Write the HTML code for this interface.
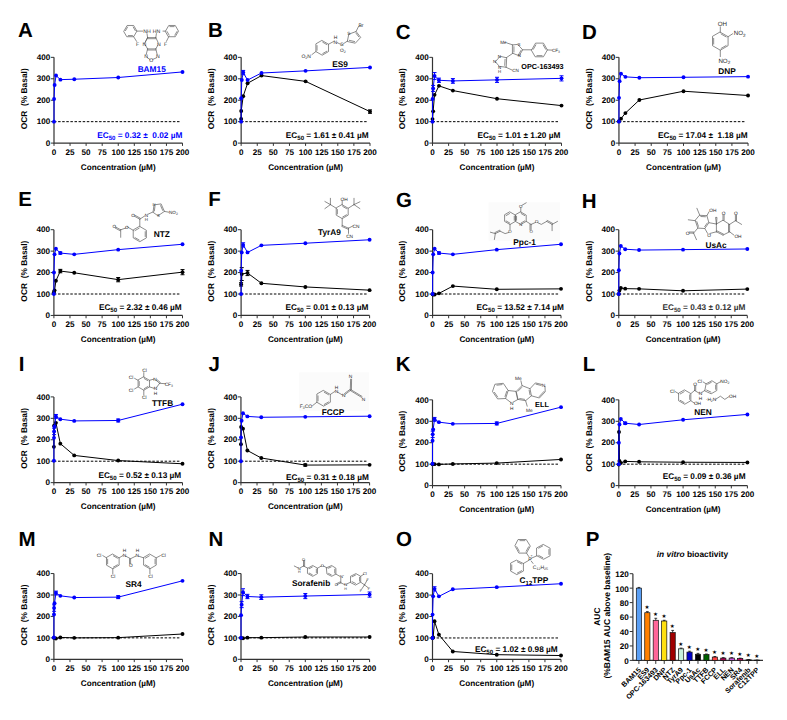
<!DOCTYPE html>
<html><head><meta charset="utf-8"><style>
html,body{margin:0;padding:0;background:#fff;}
svg{display:block;}
text{font-family:"Liberation Sans", sans-serif;text-rendering:geometricPrecision;}
</style></head><body>
<svg width="787" height="720" viewBox="0 0 787 720" font-family='"Liberation Sans", sans-serif'>
<rect width="787" height="720" fill="#fff"/>
<rect x="488.6" y="202.4" width="71.4" height="38.4" fill="#fbfbfb"/>
<rect x="299.2" y="372.4" width="69.8" height="38.4" fill="#fbfbfb"/>
<text x="18.09" y="36.9" font-size="20.5" text-anchor="start" fill="#000" font-weight="bold" >A</text>
<text x="208.03" y="36.8" font-size="20.5" text-anchor="start" fill="#000" font-weight="bold" >B</text>
<text x="395.86" y="38.6" font-size="20.5" text-anchor="start" fill="#000" font-weight="bold" >C</text>
<text x="581.93" y="39.2" font-size="20.5" text-anchor="start" fill="#000" font-weight="bold" >D</text>
<text x="18.33" y="205.9" font-size="20.5" text-anchor="start" fill="#000" font-weight="bold" >E</text>
<text x="208.23" y="205.8" font-size="20.5" text-anchor="start" fill="#000" font-weight="bold" >F</text>
<text x="395.96" y="206.5" font-size="20.5" text-anchor="start" fill="#000" font-weight="bold" >G</text>
<text x="581.83" y="207.8" font-size="20.5" text-anchor="start" fill="#000" font-weight="bold" >H</text>
<text x="18.63" y="371" font-size="20.5" text-anchor="start" fill="#000" font-weight="bold" >I</text>
<text x="208.59" y="371" font-size="20.5" text-anchor="start" fill="#000" font-weight="bold" >J</text>
<text x="395.83" y="371" font-size="20.5" text-anchor="start" fill="#000" font-weight="bold" >K</text>
<text x="582.83" y="370.8" font-size="20.5" text-anchor="start" fill="#000" font-weight="bold" >L</text>
<text x="18.53" y="546" font-size="20.5" text-anchor="start" fill="#000" font-weight="bold" >M</text>
<text x="208.53" y="546" font-size="20.5" text-anchor="start" fill="#000" font-weight="bold" >N</text>
<text x="396.06" y="545.7" font-size="20.5" text-anchor="start" fill="#000" font-weight="bold" >O</text>
<text x="585.73" y="546" font-size="20.5" text-anchor="start" fill="#000" font-weight="bold" >P</text>
<line x1="54" y1="121.66" x2="180.3" y2="121.66" stroke="#000" stroke-width="1.0" stroke-dasharray="2.5,1.6"/>
<path d="M54,57.35 V143.1 H182.5" fill="none" stroke="#333" stroke-width="1.2"/>
<text x="50.2" y="145.8" font-size="8.1" text-anchor="end" fill="#000" font-weight="bold" >0</text>
<text x="50.2" y="124.36" font-size="8.1" text-anchor="end" fill="#000" font-weight="bold" >100</text>
<text x="50.2" y="102.92" font-size="8.1" text-anchor="end" fill="#000" font-weight="bold" >200</text>
<text x="50.2" y="81.49" font-size="8.1" text-anchor="end" fill="#000" font-weight="bold" >300</text>
<text x="50.2" y="60.05" font-size="8.1" text-anchor="end" fill="#000" font-weight="bold" >400</text>
<text x="54" y="154.8" font-size="8.1" text-anchor="middle" fill="#000" font-weight="bold" >0</text>
<text x="70.06" y="154.8" font-size="8.1" text-anchor="middle" fill="#000" font-weight="bold" >25</text>
<text x="86.12" y="154.8" font-size="8.1" text-anchor="middle" fill="#000" font-weight="bold" >50</text>
<text x="102.19" y="154.8" font-size="8.1" text-anchor="middle" fill="#000" font-weight="bold" >75</text>
<text x="118.25" y="154.8" font-size="8.1" text-anchor="middle" fill="#000" font-weight="bold" >100</text>
<text x="134.31" y="154.8" font-size="8.1" text-anchor="middle" fill="#000" font-weight="bold" >125</text>
<text x="150.38" y="154.8" font-size="8.1" text-anchor="middle" fill="#000" font-weight="bold" >150</text>
<text x="166.44" y="154.8" font-size="8.1" text-anchor="middle" fill="#000" font-weight="bold" >175</text>
<text x="182.5" y="154.8" font-size="8.1" text-anchor="middle" fill="#000" font-weight="bold" >200</text>
<path d="M50.8,143.1 H54 M50.8,121.66 H54 M50.8,100.22 H54 M50.8,78.79 H54 M50.8,57.35 H54 M54,143.1 V145.9 M70.06,143.1 V145.9 M86.12,143.1 V145.9 M102.19,143.1 V145.9 M118.25,143.1 V145.9 M134.31,143.1 V145.9 M150.38,143.1 V145.9 M166.44,143.1 V145.9 M182.5,143.1 V145.9" stroke="#333" stroke-width="1.0" fill="none"/>
<text x="118.25" y="169.9" font-size="8.2" text-anchor="middle" fill="#000" font-weight="bold" >Concentration (µM)</text>
<text x="26.8" y="98.8" font-size="8.4" text-anchor="middle" font-weight="bold" transform="rotate(-90 26.8 98.8)" xml:space="preserve">OCR  (% Basal)</text>
<path d="M54,121.66 L54.06,98.94 L54.64,85 L56.03,75.57 L60.42,79.64 L74.3,79.22 L118.25,77.5 L182.5,71.93" fill="none" stroke="#0000ff" stroke-width="1.0" stroke-linejoin="round"/>
<circle cx="54" cy="121.66" r="1.95" fill="#0000ff"/>
<circle cx="54.06" cy="98.94" r="1.95" fill="#0000ff"/>
<circle cx="54.64" cy="85" r="1.95" fill="#0000ff"/>
<circle cx="56.03" cy="75.57" r="1.95" fill="#0000ff"/>
<circle cx="60.42" cy="79.64" r="1.95" fill="#0000ff"/>
<circle cx="74.3" cy="79.22" r="1.95" fill="#0000ff"/>
<circle cx="118.25" cy="77.5" r="1.95" fill="#0000ff"/>
<circle cx="182.5" cy="71.93" r="1.95" fill="#0000ff"/>
<line x1="241.15" y1="121.66" x2="367.8" y2="121.66" stroke="#000" stroke-width="1.0" stroke-dasharray="2.5,1.6"/>
<path d="M241.15,57.35 V143.1 H370" fill="none" stroke="#333" stroke-width="1.2"/>
<text x="237.35" y="145.8" font-size="8.1" text-anchor="end" fill="#000" font-weight="bold" >0</text>
<text x="237.35" y="124.36" font-size="8.1" text-anchor="end" fill="#000" font-weight="bold" >100</text>
<text x="237.35" y="102.92" font-size="8.1" text-anchor="end" fill="#000" font-weight="bold" >200</text>
<text x="237.35" y="81.49" font-size="8.1" text-anchor="end" fill="#000" font-weight="bold" >300</text>
<text x="237.35" y="60.05" font-size="8.1" text-anchor="end" fill="#000" font-weight="bold" >400</text>
<text x="241.15" y="154.8" font-size="8.1" text-anchor="middle" fill="#000" font-weight="bold" >0</text>
<text x="257.26" y="154.8" font-size="8.1" text-anchor="middle" fill="#000" font-weight="bold" >25</text>
<text x="273.36" y="154.8" font-size="8.1" text-anchor="middle" fill="#000" font-weight="bold" >50</text>
<text x="289.47" y="154.8" font-size="8.1" text-anchor="middle" fill="#000" font-weight="bold" >75</text>
<text x="305.57" y="154.8" font-size="8.1" text-anchor="middle" fill="#000" font-weight="bold" >100</text>
<text x="321.68" y="154.8" font-size="8.1" text-anchor="middle" fill="#000" font-weight="bold" >125</text>
<text x="337.79" y="154.8" font-size="8.1" text-anchor="middle" fill="#000" font-weight="bold" >150</text>
<text x="353.89" y="154.8" font-size="8.1" text-anchor="middle" fill="#000" font-weight="bold" >175</text>
<text x="370" y="154.8" font-size="8.1" text-anchor="middle" fill="#000" font-weight="bold" >200</text>
<path d="M237.95,143.1 H241.15 M237.95,121.66 H241.15 M237.95,100.22 H241.15 M237.95,78.79 H241.15 M237.95,57.35 H241.15 M241.15,143.1 V145.9 M257.26,143.1 V145.9 M273.36,143.1 V145.9 M289.47,143.1 V145.9 M305.57,143.1 V145.9 M321.68,143.1 V145.9 M337.79,143.1 V145.9 M353.89,143.1 V145.9 M370,143.1 V145.9" stroke="#333" stroke-width="1.0" fill="none"/>
<text x="305.57" y="169.9" font-size="8.2" text-anchor="middle" fill="#000" font-weight="bold" >Concentration (µM)</text>
<text x="213.95" y="98.8" font-size="8.4" text-anchor="middle" font-weight="bold" transform="rotate(-90 213.95 98.8)" xml:space="preserve">OCR  (% Basal)</text>
<path d="M241.15,118.88 L241.21,110.94 L243.19,96.15 L247.59,83.29 L261.51,75.57 L305.57,81.36 L370,111.59" fill="none" stroke="#000" stroke-width="1.0" stroke-linejoin="round"/>
<path d="M370,109.87 V113.3 M368,109.87 H372 M368,113.3 H372" stroke="#000" stroke-width="1" fill="none"/>
<circle cx="241.15" cy="118.88" r="1.95" fill="#000"/>
<circle cx="241.21" cy="110.94" r="1.95" fill="#000"/>
<circle cx="243.19" cy="96.15" r="1.95" fill="#000"/>
<circle cx="247.59" cy="83.29" r="1.95" fill="#000"/>
<circle cx="261.51" cy="75.57" r="1.95" fill="#000"/>
<circle cx="305.57" cy="81.36" r="1.95" fill="#000"/>
<circle cx="370" cy="111.59" r="1.95" fill="#000"/>
<path d="M241.15,121.66 L241.21,98.3 L241.79,80.07 L243.19,72.57 L247.59,80.07 L261.51,73 L305.57,70.86 L370,67.43" fill="none" stroke="#0000ff" stroke-width="1.0" stroke-linejoin="round"/>
<path d="M243.19,70.43 V74.71 M241.19,70.43 H245.19 M241.19,74.71 H245.19" stroke="#0000ff" stroke-width="1" fill="none"/>
<circle cx="241.15" cy="121.66" r="1.95" fill="#0000ff"/>
<circle cx="241.21" cy="98.3" r="1.95" fill="#0000ff"/>
<circle cx="241.79" cy="80.07" r="1.95" fill="#0000ff"/>
<circle cx="243.19" cy="72.57" r="1.95" fill="#0000ff"/>
<circle cx="247.59" cy="80.07" r="1.95" fill="#0000ff"/>
<circle cx="261.51" cy="73" r="1.95" fill="#0000ff"/>
<circle cx="305.57" cy="70.86" r="1.95" fill="#0000ff"/>
<circle cx="370" cy="67.43" r="1.95" fill="#0000ff"/>
<line x1="432.5" y1="121.66" x2="559.3" y2="121.66" stroke="#000" stroke-width="1.0" stroke-dasharray="2.5,1.6"/>
<path d="M432.5,57.35 V143.1 H561.5" fill="none" stroke="#333" stroke-width="1.2"/>
<text x="428.7" y="145.8" font-size="8.1" text-anchor="end" fill="#000" font-weight="bold" >0</text>
<text x="428.7" y="124.36" font-size="8.1" text-anchor="end" fill="#000" font-weight="bold" >100</text>
<text x="428.7" y="102.92" font-size="8.1" text-anchor="end" fill="#000" font-weight="bold" >200</text>
<text x="428.7" y="81.49" font-size="8.1" text-anchor="end" fill="#000" font-weight="bold" >300</text>
<text x="428.7" y="60.05" font-size="8.1" text-anchor="end" fill="#000" font-weight="bold" >400</text>
<text x="432.5" y="154.8" font-size="8.1" text-anchor="middle" fill="#000" font-weight="bold" >0</text>
<text x="448.62" y="154.8" font-size="8.1" text-anchor="middle" fill="#000" font-weight="bold" >25</text>
<text x="464.75" y="154.8" font-size="8.1" text-anchor="middle" fill="#000" font-weight="bold" >50</text>
<text x="480.88" y="154.8" font-size="8.1" text-anchor="middle" fill="#000" font-weight="bold" >75</text>
<text x="497" y="154.8" font-size="8.1" text-anchor="middle" fill="#000" font-weight="bold" >100</text>
<text x="513.12" y="154.8" font-size="8.1" text-anchor="middle" fill="#000" font-weight="bold" >125</text>
<text x="529.25" y="154.8" font-size="8.1" text-anchor="middle" fill="#000" font-weight="bold" >150</text>
<text x="545.38" y="154.8" font-size="8.1" text-anchor="middle" fill="#000" font-weight="bold" >175</text>
<text x="561.5" y="154.8" font-size="8.1" text-anchor="middle" fill="#000" font-weight="bold" >200</text>
<path d="M429.3,143.1 H432.5 M429.3,121.66 H432.5 M429.3,100.22 H432.5 M429.3,78.79 H432.5 M429.3,57.35 H432.5 M432.5,143.1 V145.9 M448.62,143.1 V145.9 M464.75,143.1 V145.9 M480.88,143.1 V145.9 M497,143.1 V145.9 M513.12,143.1 V145.9 M529.25,143.1 V145.9 M545.38,143.1 V145.9 M561.5,143.1 V145.9" stroke="#333" stroke-width="1.0" fill="none"/>
<text x="497" y="169.9" font-size="8.2" text-anchor="middle" fill="#000" font-weight="bold" >Concentration (µM)</text>
<text x="405.3" y="98.8" font-size="8.4" text-anchor="middle" font-weight="bold" transform="rotate(-90 405.3 98.8)" xml:space="preserve">OCR  (% Basal)</text>
<path d="M432.5,119.09 L433.14,111.37 L434.54,94.87 L438.95,85.86 L452.88,90.58 L497,98.72 L561.5,105.58" fill="none" stroke="#000" stroke-width="1.0" stroke-linejoin="round"/>
<circle cx="432.5" cy="119.09" r="1.95" fill="#000"/>
<circle cx="433.14" cy="111.37" r="1.95" fill="#000"/>
<circle cx="434.54" cy="94.87" r="1.95" fill="#000"/>
<circle cx="438.95" cy="85.86" r="1.95" fill="#000"/>
<circle cx="452.88" cy="90.58" r="1.95" fill="#000"/>
<circle cx="497" cy="98.72" r="1.95" fill="#000"/>
<circle cx="561.5" cy="105.58" r="1.95" fill="#000"/>
<path d="M432.5,121.66 L432.56,98.94 L433.14,88.43 L434.54,76 L438.95,80.29 L452.88,80.93 L497,79.86 L561.5,78.36" fill="none" stroke="#0000ff" stroke-width="1.0" stroke-linejoin="round"/>
<path d="M433.14,85.43 V91.44 M431.14,85.43 H435.14 M431.14,91.44 H435.14" stroke="#0000ff" stroke-width="1" fill="none"/>
<path d="M434.54,72.57 V79.43 M432.54,72.57 H436.54 M432.54,79.43 H436.54" stroke="#0000ff" stroke-width="1" fill="none"/>
<path d="M438.95,78.14 V82.43 M436.95,78.14 H440.95 M436.95,82.43 H440.95" stroke="#0000ff" stroke-width="1" fill="none"/>
<path d="M452.88,78.57 V83.29 M450.88,78.57 H454.88 M450.88,83.29 H454.88" stroke="#0000ff" stroke-width="1" fill="none"/>
<path d="M497,77.29 V82.43 M495,77.29 H499 M495,82.43 H499" stroke="#0000ff" stroke-width="1" fill="none"/>
<path d="M561.5,75.79 V80.93 M559.5,75.79 H563.5 M559.5,80.93 H563.5" stroke="#0000ff" stroke-width="1" fill="none"/>
<circle cx="432.5" cy="121.66" r="1.95" fill="#0000ff"/>
<circle cx="432.56" cy="98.94" r="1.95" fill="#0000ff"/>
<circle cx="433.14" cy="88.43" r="1.95" fill="#0000ff"/>
<circle cx="434.54" cy="76" r="1.95" fill="#0000ff"/>
<circle cx="438.95" cy="80.29" r="1.95" fill="#0000ff"/>
<circle cx="452.88" cy="80.93" r="1.95" fill="#0000ff"/>
<circle cx="497" cy="79.86" r="1.95" fill="#0000ff"/>
<circle cx="561.5" cy="78.36" r="1.95" fill="#0000ff"/>
<line x1="618.95" y1="121.66" x2="745.85" y2="121.66" stroke="#000" stroke-width="1.0" stroke-dasharray="2.5,1.6"/>
<path d="M618.95,57.35 V143.1 H748.05" fill="none" stroke="#333" stroke-width="1.2"/>
<text x="615.15" y="145.8" font-size="8.1" text-anchor="end" fill="#000" font-weight="bold" >0</text>
<text x="615.15" y="124.36" font-size="8.1" text-anchor="end" fill="#000" font-weight="bold" >100</text>
<text x="615.15" y="102.92" font-size="8.1" text-anchor="end" fill="#000" font-weight="bold" >200</text>
<text x="615.15" y="81.49" font-size="8.1" text-anchor="end" fill="#000" font-weight="bold" >300</text>
<text x="615.15" y="60.05" font-size="8.1" text-anchor="end" fill="#000" font-weight="bold" >400</text>
<text x="618.95" y="154.8" font-size="8.1" text-anchor="middle" fill="#000" font-weight="bold" >0</text>
<text x="635.09" y="154.8" font-size="8.1" text-anchor="middle" fill="#000" font-weight="bold" >25</text>
<text x="651.23" y="154.8" font-size="8.1" text-anchor="middle" fill="#000" font-weight="bold" >50</text>
<text x="667.36" y="154.8" font-size="8.1" text-anchor="middle" fill="#000" font-weight="bold" >75</text>
<text x="683.5" y="154.8" font-size="8.1" text-anchor="middle" fill="#000" font-weight="bold" >100</text>
<text x="699.64" y="154.8" font-size="8.1" text-anchor="middle" fill="#000" font-weight="bold" >125</text>
<text x="715.77" y="154.8" font-size="8.1" text-anchor="middle" fill="#000" font-weight="bold" >150</text>
<text x="731.91" y="154.8" font-size="8.1" text-anchor="middle" fill="#000" font-weight="bold" >175</text>
<text x="748.05" y="154.8" font-size="8.1" text-anchor="middle" fill="#000" font-weight="bold" >200</text>
<path d="M615.75,143.1 H618.95 M615.75,121.66 H618.95 M615.75,100.22 H618.95 M615.75,78.79 H618.95 M615.75,57.35 H618.95 M618.95,143.1 V145.9 M635.09,143.1 V145.9 M651.23,143.1 V145.9 M667.36,143.1 V145.9 M683.5,143.1 V145.9 M699.64,143.1 V145.9 M715.77,143.1 V145.9 M731.91,143.1 V145.9 M748.05,143.1 V145.9" stroke="#333" stroke-width="1.0" fill="none"/>
<text x="683.5" y="169.9" font-size="8.2" text-anchor="middle" fill="#000" font-weight="bold" >Concentration (µM)</text>
<text x="591.75" y="98.8" font-size="8.4" text-anchor="middle" font-weight="bold" transform="rotate(-90 591.75 98.8)" xml:space="preserve">OCR  (% Basal)</text>
<path d="M618.95,121.23 L620.99,118.66 L625.41,113.09 L639.35,100.01 L683.5,91.22 L748.05,95.51" fill="none" stroke="#000" stroke-width="1.0" stroke-linejoin="round"/>
<circle cx="618.95" cy="121.23" r="1.95" fill="#000"/>
<circle cx="620.99" cy="118.66" r="1.95" fill="#000"/>
<circle cx="625.41" cy="113.09" r="1.95" fill="#000"/>
<circle cx="639.35" cy="100.01" r="1.95" fill="#000"/>
<circle cx="683.5" cy="91.22" r="1.95" fill="#000"/>
<circle cx="748.05" cy="95.51" r="1.95" fill="#000"/>
<path d="M618.95,121.66 L619.01,97.87 L619.6,81.15 L620.99,73.64 L625.41,76.86 L639.35,77.72 L683.5,77.29 L748.05,76.64" fill="none" stroke="#0000ff" stroke-width="1.0" stroke-linejoin="round"/>
<circle cx="618.95" cy="121.66" r="1.95" fill="#0000ff"/>
<circle cx="619.01" cy="97.87" r="1.95" fill="#0000ff"/>
<circle cx="619.6" cy="81.15" r="1.95" fill="#0000ff"/>
<circle cx="620.99" cy="73.64" r="1.95" fill="#0000ff"/>
<circle cx="625.41" cy="76.86" r="1.95" fill="#0000ff"/>
<circle cx="639.35" cy="77.72" r="1.95" fill="#0000ff"/>
<circle cx="683.5" cy="77.29" r="1.95" fill="#0000ff"/>
<circle cx="748.05" cy="76.64" r="1.95" fill="#0000ff"/>
<line x1="53.9" y1="294.01" x2="180.3" y2="294.01" stroke="#000" stroke-width="1.0" stroke-dasharray="2.5,1.6"/>
<path d="M53.9,229.7 V315.45 H182.5" fill="none" stroke="#333" stroke-width="1.2"/>
<text x="50.1" y="318.15" font-size="8.1" text-anchor="end" fill="#000" font-weight="bold" >0</text>
<text x="50.1" y="296.71" font-size="8.1" text-anchor="end" fill="#000" font-weight="bold" >100</text>
<text x="50.1" y="275.27" font-size="8.1" text-anchor="end" fill="#000" font-weight="bold" >200</text>
<text x="50.1" y="253.84" font-size="8.1" text-anchor="end" fill="#000" font-weight="bold" >300</text>
<text x="50.1" y="232.4" font-size="8.1" text-anchor="end" fill="#000" font-weight="bold" >400</text>
<text x="53.9" y="327.15" font-size="8.1" text-anchor="middle" fill="#000" font-weight="bold" >0</text>
<text x="69.97" y="327.15" font-size="8.1" text-anchor="middle" fill="#000" font-weight="bold" >25</text>
<text x="86.05" y="327.15" font-size="8.1" text-anchor="middle" fill="#000" font-weight="bold" >50</text>
<text x="102.12" y="327.15" font-size="8.1" text-anchor="middle" fill="#000" font-weight="bold" >75</text>
<text x="118.2" y="327.15" font-size="8.1" text-anchor="middle" fill="#000" font-weight="bold" >100</text>
<text x="134.28" y="327.15" font-size="8.1" text-anchor="middle" fill="#000" font-weight="bold" >125</text>
<text x="150.35" y="327.15" font-size="8.1" text-anchor="middle" fill="#000" font-weight="bold" >150</text>
<text x="166.43" y="327.15" font-size="8.1" text-anchor="middle" fill="#000" font-weight="bold" >175</text>
<text x="182.5" y="327.15" font-size="8.1" text-anchor="middle" fill="#000" font-weight="bold" >200</text>
<path d="M50.7,315.45 H53.9 M50.7,294.01 H53.9 M50.7,272.57 H53.9 M50.7,251.14 H53.9 M50.7,229.7 H53.9 M53.9,315.45 V318.25 M69.97,315.45 V318.25 M86.05,315.45 V318.25 M102.12,315.45 V318.25 M118.2,315.45 V318.25 M134.28,315.45 V318.25 M150.35,315.45 V318.25 M166.43,315.45 V318.25 M182.5,315.45 V318.25" stroke="#333" stroke-width="1.0" fill="none"/>
<text x="118.2" y="342.25" font-size="8.2" text-anchor="middle" fill="#000" font-weight="bold" >Concentration (µM)</text>
<text x="26.7" y="271.15" font-size="8.4" text-anchor="middle" font-weight="bold" transform="rotate(-90 26.7 271.15)" xml:space="preserve">OCR  (% Basal)</text>
<path d="M53.9,292.3 L54.54,290.37 L55.93,280.72 L60.33,271.07 L74.22,272.79 L118.2,279.65 L182.5,272.15" fill="none" stroke="#000" stroke-width="1.0" stroke-linejoin="round"/>
<path d="M60.33,269.36 V272.79 M58.33,269.36 H62.33 M58.33,272.79 H62.33" stroke="#000" stroke-width="1" fill="none"/>
<path d="M118.2,277.51 V281.79 M116.2,277.51 H120.2 M116.2,281.79 H120.2" stroke="#000" stroke-width="1" fill="none"/>
<path d="M182.5,269.57 V274.72 M180.5,269.57 H184.5 M180.5,274.72 H184.5" stroke="#000" stroke-width="1" fill="none"/>
<circle cx="53.9" cy="292.3" r="1.95" fill="#000"/>
<circle cx="54.54" cy="290.37" r="1.95" fill="#000"/>
<circle cx="55.93" cy="280.72" r="1.95" fill="#000"/>
<circle cx="60.33" cy="271.07" r="1.95" fill="#000"/>
<circle cx="74.22" cy="272.79" r="1.95" fill="#000"/>
<circle cx="118.2" cy="279.65" r="1.95" fill="#000"/>
<circle cx="182.5" cy="272.15" r="1.95" fill="#000"/>
<path d="M53.9,294.01 L53.96,272.57 L54.54,254.35 L55.93,248.78 L60.33,253.07 L74.22,254.35 L118.2,249.64 L182.5,244.28" fill="none" stroke="#0000ff" stroke-width="1.0" stroke-linejoin="round"/>
<path d="M60.33,251.99 V254.14 M58.33,251.99 H62.33 M58.33,254.14 H62.33" stroke="#0000ff" stroke-width="1" fill="none"/>
<circle cx="53.9" cy="294.01" r="1.95" fill="#0000ff"/>
<circle cx="53.96" cy="272.57" r="1.95" fill="#0000ff"/>
<circle cx="54.54" cy="254.35" r="1.95" fill="#0000ff"/>
<circle cx="55.93" cy="248.78" r="1.95" fill="#0000ff"/>
<circle cx="60.33" cy="253.07" r="1.95" fill="#0000ff"/>
<circle cx="74.22" cy="254.35" r="1.95" fill="#0000ff"/>
<circle cx="118.2" cy="249.64" r="1.95" fill="#0000ff"/>
<circle cx="182.5" cy="244.28" r="1.95" fill="#0000ff"/>
<line x1="241.1" y1="294.01" x2="367.4" y2="294.01" stroke="#000" stroke-width="1.0" stroke-dasharray="2.5,1.6"/>
<path d="M241.1,229.7 V315.45 H369.6" fill="none" stroke="#333" stroke-width="1.2"/>
<text x="237.3" y="318.15" font-size="8.1" text-anchor="end" fill="#000" font-weight="bold" >0</text>
<text x="237.3" y="296.71" font-size="8.1" text-anchor="end" fill="#000" font-weight="bold" >100</text>
<text x="237.3" y="275.27" font-size="8.1" text-anchor="end" fill="#000" font-weight="bold" >200</text>
<text x="237.3" y="253.84" font-size="8.1" text-anchor="end" fill="#000" font-weight="bold" >300</text>
<text x="237.3" y="232.4" font-size="8.1" text-anchor="end" fill="#000" font-weight="bold" >400</text>
<text x="241.1" y="327.15" font-size="8.1" text-anchor="middle" fill="#000" font-weight="bold" >0</text>
<text x="257.16" y="327.15" font-size="8.1" text-anchor="middle" fill="#000" font-weight="bold" >25</text>
<text x="273.23" y="327.15" font-size="8.1" text-anchor="middle" fill="#000" font-weight="bold" >50</text>
<text x="289.29" y="327.15" font-size="8.1" text-anchor="middle" fill="#000" font-weight="bold" >75</text>
<text x="305.35" y="327.15" font-size="8.1" text-anchor="middle" fill="#000" font-weight="bold" >100</text>
<text x="321.41" y="327.15" font-size="8.1" text-anchor="middle" fill="#000" font-weight="bold" >125</text>
<text x="337.48" y="327.15" font-size="8.1" text-anchor="middle" fill="#000" font-weight="bold" >150</text>
<text x="353.54" y="327.15" font-size="8.1" text-anchor="middle" fill="#000" font-weight="bold" >175</text>
<text x="369.6" y="327.15" font-size="8.1" text-anchor="middle" fill="#000" font-weight="bold" >200</text>
<path d="M237.9,315.45 H241.1 M237.9,294.01 H241.1 M237.9,272.57 H241.1 M237.9,251.14 H241.1 M237.9,229.7 H241.1 M241.1,315.45 V318.25 M257.16,315.45 V318.25 M273.23,315.45 V318.25 M289.29,315.45 V318.25 M305.35,315.45 V318.25 M321.41,315.45 V318.25 M337.48,315.45 V318.25 M353.54,315.45 V318.25 M369.6,315.45 V318.25" stroke="#333" stroke-width="1.0" fill="none"/>
<text x="305.35" y="342.25" font-size="8.2" text-anchor="middle" fill="#000" font-weight="bold" >Concentration (µM)</text>
<text x="213.9" y="271.15" font-size="8.4" text-anchor="middle" font-weight="bold" transform="rotate(-90 213.9 271.15)" xml:space="preserve">OCR  (% Basal)</text>
<path d="M241.1,284.37 L241.74,274.08 L247.53,273 L261.4,283.29 L305.35,286.94 L369.6,290.15" fill="none" stroke="#000" stroke-width="1.0" stroke-linejoin="round"/>
<path d="M241.1,282.65 V286.08 M239.1,282.65 H243.1 M239.1,286.08 H243.1" stroke="#000" stroke-width="1" fill="none"/>
<path d="M241.74,267.64 V280.51 M239.74,267.64 H243.74 M239.74,280.51 H243.74" stroke="#000" stroke-width="1" fill="none"/>
<path d="M247.53,270.43 V275.58 M245.53,270.43 H249.53 M245.53,275.58 H249.53" stroke="#000" stroke-width="1" fill="none"/>
<circle cx="241.1" cy="284.37" r="1.95" fill="#000"/>
<circle cx="241.74" cy="274.08" r="1.95" fill="#000"/>
<circle cx="247.53" cy="273" r="1.95" fill="#000"/>
<circle cx="261.4" cy="283.29" r="1.95" fill="#000"/>
<circle cx="305.35" cy="286.94" r="1.95" fill="#000"/>
<circle cx="369.6" cy="290.15" r="1.95" fill="#000"/>
<path d="M241.1,294.01 L241.16,270.65 L241.74,252.42 L243.13,244.92 L247.53,252.42 L261.4,245.35 L305.35,243.21 L369.6,239.78" fill="none" stroke="#0000ff" stroke-width="1.0" stroke-linejoin="round"/>
<path d="M243.13,242.78 V247.06 M241.13,242.78 H245.13 M241.13,247.06 H245.13" stroke="#0000ff" stroke-width="1" fill="none"/>
<circle cx="241.1" cy="294.01" r="1.95" fill="#0000ff"/>
<circle cx="241.16" cy="270.65" r="1.95" fill="#0000ff"/>
<circle cx="241.74" cy="252.42" r="1.95" fill="#0000ff"/>
<circle cx="243.13" cy="244.92" r="1.95" fill="#0000ff"/>
<circle cx="247.53" cy="252.42" r="1.95" fill="#0000ff"/>
<circle cx="261.4" cy="245.35" r="1.95" fill="#0000ff"/>
<circle cx="305.35" cy="243.21" r="1.95" fill="#0000ff"/>
<circle cx="369.6" cy="239.78" r="1.95" fill="#0000ff"/>
<line x1="432.6" y1="294.01" x2="558.8" y2="294.01" stroke="#000" stroke-width="1.0" stroke-dasharray="2.5,1.6"/>
<path d="M432.6,229.7 V315.45 H561" fill="none" stroke="#333" stroke-width="1.2"/>
<text x="428.8" y="318.15" font-size="8.1" text-anchor="end" fill="#000" font-weight="bold" >0</text>
<text x="428.8" y="296.71" font-size="8.1" text-anchor="end" fill="#000" font-weight="bold" >100</text>
<text x="428.8" y="275.27" font-size="8.1" text-anchor="end" fill="#000" font-weight="bold" >200</text>
<text x="428.8" y="253.84" font-size="8.1" text-anchor="end" fill="#000" font-weight="bold" >300</text>
<text x="428.8" y="232.4" font-size="8.1" text-anchor="end" fill="#000" font-weight="bold" >400</text>
<text x="432.6" y="327.15" font-size="8.1" text-anchor="middle" fill="#000" font-weight="bold" >0</text>
<text x="448.65" y="327.15" font-size="8.1" text-anchor="middle" fill="#000" font-weight="bold" >25</text>
<text x="464.7" y="327.15" font-size="8.1" text-anchor="middle" fill="#000" font-weight="bold" >50</text>
<text x="480.75" y="327.15" font-size="8.1" text-anchor="middle" fill="#000" font-weight="bold" >75</text>
<text x="496.8" y="327.15" font-size="8.1" text-anchor="middle" fill="#000" font-weight="bold" >100</text>
<text x="512.85" y="327.15" font-size="8.1" text-anchor="middle" fill="#000" font-weight="bold" >125</text>
<text x="528.9" y="327.15" font-size="8.1" text-anchor="middle" fill="#000" font-weight="bold" >150</text>
<text x="544.95" y="327.15" font-size="8.1" text-anchor="middle" fill="#000" font-weight="bold" >175</text>
<text x="561" y="327.15" font-size="8.1" text-anchor="middle" fill="#000" font-weight="bold" >200</text>
<path d="M429.4,315.45 H432.6 M429.4,294.01 H432.6 M429.4,272.57 H432.6 M429.4,251.14 H432.6 M429.4,229.7 H432.6 M432.6,315.45 V318.25 M448.65,315.45 V318.25 M464.7,315.45 V318.25 M480.75,315.45 V318.25 M496.8,315.45 V318.25 M512.85,315.45 V318.25 M528.9,315.45 V318.25 M544.95,315.45 V318.25 M561,315.45 V318.25" stroke="#333" stroke-width="1.0" fill="none"/>
<text x="496.8" y="342.25" font-size="8.2" text-anchor="middle" fill="#000" font-weight="bold" >Concentration (µM)</text>
<text x="405.4" y="271.15" font-size="8.4" text-anchor="middle" font-weight="bold" transform="rotate(-90 405.4 271.15)" xml:space="preserve">OCR  (% Basal)</text>
<path d="M432.6,294.23 L433.24,294.44 L434.63,294.44 L439.02,293.37 L452.89,286.08 L496.8,289.3 L561,288.87" fill="none" stroke="#000" stroke-width="1.0" stroke-linejoin="round"/>
<circle cx="432.6" cy="294.23" r="1.95" fill="#000"/>
<circle cx="433.24" cy="294.44" r="1.95" fill="#000"/>
<circle cx="434.63" cy="294.44" r="1.95" fill="#000"/>
<circle cx="439.02" cy="293.37" r="1.95" fill="#000"/>
<circle cx="452.89" cy="286.08" r="1.95" fill="#000"/>
<circle cx="496.8" cy="289.3" r="1.95" fill="#000"/>
<circle cx="561" cy="288.87" r="1.95" fill="#000"/>
<path d="M432.6,294.01 L432.66,272.57 L433.24,254.35 L434.63,248.78 L439.02,253.07 L452.89,254.35 L496.8,249.64 L561,244.28" fill="none" stroke="#0000ff" stroke-width="1.0" stroke-linejoin="round"/>
<path d="M439.02,251.99 V254.14 M437.02,251.99 H441.02 M437.02,254.14 H441.02" stroke="#0000ff" stroke-width="1" fill="none"/>
<circle cx="432.6" cy="294.01" r="1.95" fill="#0000ff"/>
<circle cx="432.66" cy="272.57" r="1.95" fill="#0000ff"/>
<circle cx="433.24" cy="254.35" r="1.95" fill="#0000ff"/>
<circle cx="434.63" cy="248.78" r="1.95" fill="#0000ff"/>
<circle cx="439.02" cy="253.07" r="1.95" fill="#0000ff"/>
<circle cx="452.89" cy="254.35" r="1.95" fill="#0000ff"/>
<circle cx="496.8" cy="249.64" r="1.95" fill="#0000ff"/>
<circle cx="561" cy="244.28" r="1.95" fill="#0000ff"/>
<line x1="618.77" y1="294.01" x2="745.1" y2="294.01" stroke="#000" stroke-width="1.0" stroke-dasharray="2.5,1.6"/>
<path d="M618.77,229.7 V315.45 H747.3" fill="none" stroke="#333" stroke-width="1.2"/>
<text x="614.97" y="318.15" font-size="8.1" text-anchor="end" fill="#000" font-weight="bold" >0</text>
<text x="614.97" y="296.71" font-size="8.1" text-anchor="end" fill="#000" font-weight="bold" >100</text>
<text x="614.97" y="275.27" font-size="8.1" text-anchor="end" fill="#000" font-weight="bold" >200</text>
<text x="614.97" y="253.84" font-size="8.1" text-anchor="end" fill="#000" font-weight="bold" >300</text>
<text x="614.97" y="232.4" font-size="8.1" text-anchor="end" fill="#000" font-weight="bold" >400</text>
<text x="618.77" y="327.15" font-size="8.1" text-anchor="middle" fill="#000" font-weight="bold" >0</text>
<text x="634.84" y="327.15" font-size="8.1" text-anchor="middle" fill="#000" font-weight="bold" >25</text>
<text x="650.9" y="327.15" font-size="8.1" text-anchor="middle" fill="#000" font-weight="bold" >50</text>
<text x="666.97" y="327.15" font-size="8.1" text-anchor="middle" fill="#000" font-weight="bold" >75</text>
<text x="683.03" y="327.15" font-size="8.1" text-anchor="middle" fill="#000" font-weight="bold" >100</text>
<text x="699.1" y="327.15" font-size="8.1" text-anchor="middle" fill="#000" font-weight="bold" >125</text>
<text x="715.17" y="327.15" font-size="8.1" text-anchor="middle" fill="#000" font-weight="bold" >150</text>
<text x="731.23" y="327.15" font-size="8.1" text-anchor="middle" fill="#000" font-weight="bold" >175</text>
<text x="747.3" y="327.15" font-size="8.1" text-anchor="middle" fill="#000" font-weight="bold" >200</text>
<path d="M615.57,315.45 H618.77 M615.57,294.01 H618.77 M615.57,272.57 H618.77 M615.57,251.14 H618.77 M615.57,229.7 H618.77 M618.77,315.45 V318.25 M634.84,315.45 V318.25 M650.9,315.45 V318.25 M666.97,315.45 V318.25 M683.03,315.45 V318.25 M699.1,315.45 V318.25 M715.17,315.45 V318.25 M731.23,315.45 V318.25 M747.3,315.45 V318.25" stroke="#333" stroke-width="1.0" fill="none"/>
<text x="683.03" y="342.25" font-size="8.2" text-anchor="middle" fill="#000" font-weight="bold" >Concentration (µM)</text>
<text x="591.57" y="271.15" font-size="8.4" text-anchor="middle" font-weight="bold" transform="rotate(-90 591.57 271.15)" xml:space="preserve">OCR  (% Basal)</text>
<path d="M618.77,294.01 L619.41,290.58 L620.8,288.01 L625.2,288.65 L639.08,288.87 L683.03,290.8 L747.3,289.08" fill="none" stroke="#000" stroke-width="1.0" stroke-linejoin="round"/>
<circle cx="618.77" cy="294.01" r="1.95" fill="#000"/>
<circle cx="619.41" cy="290.58" r="1.95" fill="#000"/>
<circle cx="620.8" cy="288.01" r="1.95" fill="#000"/>
<circle cx="625.2" cy="288.65" r="1.95" fill="#000"/>
<circle cx="639.08" cy="288.87" r="1.95" fill="#000"/>
<circle cx="683.03" cy="290.8" r="1.95" fill="#000"/>
<circle cx="747.3" cy="289.08" r="1.95" fill="#000"/>
<path d="M618.77,294.01 L618.83,270.22 L619.41,253.5 L620.8,245.99 L625.2,249.21 L639.08,250.07 L683.03,249.64 L747.3,248.99" fill="none" stroke="#0000ff" stroke-width="1.0" stroke-linejoin="round"/>
<circle cx="618.77" cy="294.01" r="1.95" fill="#0000ff"/>
<circle cx="618.83" cy="270.22" r="1.95" fill="#0000ff"/>
<circle cx="619.41" cy="253.5" r="1.95" fill="#0000ff"/>
<circle cx="620.8" cy="245.99" r="1.95" fill="#0000ff"/>
<circle cx="625.2" cy="249.21" r="1.95" fill="#0000ff"/>
<circle cx="639.08" cy="250.07" r="1.95" fill="#0000ff"/>
<circle cx="683.03" cy="249.64" r="1.95" fill="#0000ff"/>
<circle cx="747.3" cy="248.99" r="1.95" fill="#0000ff"/>
<line x1="53.9" y1="461.21" x2="180.3" y2="461.21" stroke="#000" stroke-width="1.0" stroke-dasharray="2.5,1.6"/>
<path d="M53.9,396.9 V482.65 H182.5" fill="none" stroke="#333" stroke-width="1.2"/>
<text x="50.1" y="485.35" font-size="8.1" text-anchor="end" fill="#000" font-weight="bold" >0</text>
<text x="50.1" y="463.91" font-size="8.1" text-anchor="end" fill="#000" font-weight="bold" >100</text>
<text x="50.1" y="442.47" font-size="8.1" text-anchor="end" fill="#000" font-weight="bold" >200</text>
<text x="50.1" y="421.04" font-size="8.1" text-anchor="end" fill="#000" font-weight="bold" >300</text>
<text x="50.1" y="399.6" font-size="8.1" text-anchor="end" fill="#000" font-weight="bold" >400</text>
<text x="53.9" y="494.35" font-size="8.1" text-anchor="middle" fill="#000" font-weight="bold" >0</text>
<text x="69.97" y="494.35" font-size="8.1" text-anchor="middle" fill="#000" font-weight="bold" >25</text>
<text x="86.05" y="494.35" font-size="8.1" text-anchor="middle" fill="#000" font-weight="bold" >50</text>
<text x="102.12" y="494.35" font-size="8.1" text-anchor="middle" fill="#000" font-weight="bold" >75</text>
<text x="118.2" y="494.35" font-size="8.1" text-anchor="middle" fill="#000" font-weight="bold" >100</text>
<text x="134.28" y="494.35" font-size="8.1" text-anchor="middle" fill="#000" font-weight="bold" >125</text>
<text x="150.35" y="494.35" font-size="8.1" text-anchor="middle" fill="#000" font-weight="bold" >150</text>
<text x="166.43" y="494.35" font-size="8.1" text-anchor="middle" fill="#000" font-weight="bold" >175</text>
<text x="182.5" y="494.35" font-size="8.1" text-anchor="middle" fill="#000" font-weight="bold" >200</text>
<path d="M50.7,482.65 H53.9 M50.7,461.21 H53.9 M50.7,439.77 H53.9 M50.7,418.34 H53.9 M50.7,396.9 H53.9 M53.9,482.65 V485.45 M69.97,482.65 V485.45 M86.05,482.65 V485.45 M102.12,482.65 V485.45 M118.2,482.65 V485.45 M134.28,482.65 V485.45 M150.35,482.65 V485.45 M166.43,482.65 V485.45 M182.5,482.65 V485.45" stroke="#333" stroke-width="1.0" fill="none"/>
<text x="118.2" y="509.45" font-size="8.2" text-anchor="middle" fill="#000" font-weight="bold" >Concentration (µM)</text>
<text x="26.7" y="438.35" font-size="8.4" text-anchor="middle" font-weight="bold" transform="rotate(-90 26.7 438.35)" xml:space="preserve">OCR  (% Basal)</text>
<path d="M53.9,446.85 L54.09,425.63 L55.93,422.84 L60.33,443.63 L74.22,455.42 L118.2,460.57 L182.5,463.78" fill="none" stroke="#000" stroke-width="1.0" stroke-linejoin="round"/>
<circle cx="53.9" cy="446.85" r="1.95" fill="#000"/>
<circle cx="54.09" cy="425.63" r="1.95" fill="#000"/>
<circle cx="55.93" cy="422.84" r="1.95" fill="#000"/>
<circle cx="60.33" cy="443.63" r="1.95" fill="#000"/>
<circle cx="74.22" cy="455.42" r="1.95" fill="#000"/>
<circle cx="118.2" cy="460.57" r="1.95" fill="#000"/>
<circle cx="182.5" cy="463.78" r="1.95" fill="#000"/>
<path d="M53.9,460.78 L53.96,437.85 L54.09,431.41 L54.54,426.48 L55.93,416.41 L60.33,419.19 L74.22,420.91 L118.2,420.48 L182.5,404.19" fill="none" stroke="#0000ff" stroke-width="1.0" stroke-linejoin="round"/>
<path d="M54.09,428.2 V434.63 M52.09,428.2 H56.09 M52.09,434.63 H56.09" stroke="#0000ff" stroke-width="1" fill="none"/>
<path d="M55.93,414.48 V418.34 M53.93,414.48 H57.93 M53.93,418.34 H57.93" stroke="#0000ff" stroke-width="1" fill="none"/>
<path d="M118.2,418.98 V421.98 M116.2,418.98 H120.2 M116.2,421.98 H120.2" stroke="#0000ff" stroke-width="1" fill="none"/>
<circle cx="53.9" cy="460.78" r="1.95" fill="#0000ff"/>
<circle cx="53.96" cy="437.85" r="1.95" fill="#0000ff"/>
<circle cx="54.09" cy="431.41" r="1.95" fill="#0000ff"/>
<circle cx="54.54" cy="426.48" r="1.95" fill="#0000ff"/>
<circle cx="55.93" cy="416.41" r="1.95" fill="#0000ff"/>
<circle cx="60.33" cy="419.19" r="1.95" fill="#0000ff"/>
<circle cx="74.22" cy="420.91" r="1.95" fill="#0000ff"/>
<circle cx="118.2" cy="420.48" r="1.95" fill="#0000ff"/>
<circle cx="182.5" cy="404.19" r="1.95" fill="#0000ff"/>
<line x1="240.95" y1="461.21" x2="367.4" y2="461.21" stroke="#000" stroke-width="1.0" stroke-dasharray="2.5,1.6"/>
<path d="M240.95,396.9 V482.65 H369.6" fill="none" stroke="#333" stroke-width="1.2"/>
<text x="237.15" y="485.35" font-size="8.1" text-anchor="end" fill="#000" font-weight="bold" >0</text>
<text x="237.15" y="463.91" font-size="8.1" text-anchor="end" fill="#000" font-weight="bold" >100</text>
<text x="237.15" y="442.47" font-size="8.1" text-anchor="end" fill="#000" font-weight="bold" >200</text>
<text x="237.15" y="421.04" font-size="8.1" text-anchor="end" fill="#000" font-weight="bold" >300</text>
<text x="237.15" y="399.6" font-size="8.1" text-anchor="end" fill="#000" font-weight="bold" >400</text>
<text x="240.95" y="494.35" font-size="8.1" text-anchor="middle" fill="#000" font-weight="bold" >0</text>
<text x="257.03" y="494.35" font-size="8.1" text-anchor="middle" fill="#000" font-weight="bold" >25</text>
<text x="273.11" y="494.35" font-size="8.1" text-anchor="middle" fill="#000" font-weight="bold" >50</text>
<text x="289.19" y="494.35" font-size="8.1" text-anchor="middle" fill="#000" font-weight="bold" >75</text>
<text x="305.27" y="494.35" font-size="8.1" text-anchor="middle" fill="#000" font-weight="bold" >100</text>
<text x="321.36" y="494.35" font-size="8.1" text-anchor="middle" fill="#000" font-weight="bold" >125</text>
<text x="337.44" y="494.35" font-size="8.1" text-anchor="middle" fill="#000" font-weight="bold" >150</text>
<text x="353.52" y="494.35" font-size="8.1" text-anchor="middle" fill="#000" font-weight="bold" >175</text>
<text x="369.6" y="494.35" font-size="8.1" text-anchor="middle" fill="#000" font-weight="bold" >200</text>
<path d="M237.75,482.65 H240.95 M237.75,461.21 H240.95 M237.75,439.77 H240.95 M237.75,418.34 H240.95 M237.75,396.9 H240.95 M240.95,482.65 V485.45 M257.03,482.65 V485.45 M273.11,482.65 V485.45 M289.19,482.65 V485.45 M305.27,482.65 V485.45 M321.36,482.65 V485.45 M337.44,482.65 V485.45 M353.52,482.65 V485.45 M369.6,482.65 V485.45" stroke="#333" stroke-width="1.0" fill="none"/>
<text x="305.27" y="509.45" font-size="8.2" text-anchor="middle" fill="#000" font-weight="bold" >Concentration (µM)</text>
<text x="213.75" y="438.35" font-size="8.4" text-anchor="middle" font-weight="bold" transform="rotate(-90 213.75 438.35)" xml:space="preserve">OCR  (% Basal)</text>
<path d="M240.95,444.28 L241.14,426.91 L242.98,428.63 L247.38,450.49 L261.28,458 L305.27,465.07 L369.6,464.86" fill="none" stroke="#000" stroke-width="1.0" stroke-linejoin="round"/>
<path d="M305.27,464 V466.14 M303.27,464 H307.27 M303.27,466.14 H307.27" stroke="#000" stroke-width="1" fill="none"/>
<circle cx="240.95" cy="444.28" r="1.95" fill="#000"/>
<circle cx="241.14" cy="426.91" r="1.95" fill="#000"/>
<circle cx="242.98" cy="428.63" r="1.95" fill="#000"/>
<circle cx="247.38" cy="450.49" r="1.95" fill="#000"/>
<circle cx="261.28" cy="458" r="1.95" fill="#000"/>
<circle cx="305.27" cy="465.07" r="1.95" fill="#000"/>
<circle cx="369.6" cy="464.86" r="1.95" fill="#000"/>
<path d="M240.95,461.21 L241.01,437.42 L241.59,420.7 L242.98,413.19 L247.38,416.41 L261.28,417.27 L305.27,416.84 L369.6,416.19" fill="none" stroke="#0000ff" stroke-width="1.0" stroke-linejoin="round"/>
<circle cx="240.95" cy="461.21" r="1.95" fill="#0000ff"/>
<circle cx="241.01" cy="437.42" r="1.95" fill="#0000ff"/>
<circle cx="241.59" cy="420.7" r="1.95" fill="#0000ff"/>
<circle cx="242.98" cy="413.19" r="1.95" fill="#0000ff"/>
<circle cx="247.38" cy="416.41" r="1.95" fill="#0000ff"/>
<circle cx="261.28" cy="417.27" r="1.95" fill="#0000ff"/>
<circle cx="305.27" cy="416.84" r="1.95" fill="#0000ff"/>
<circle cx="369.6" cy="416.19" r="1.95" fill="#0000ff"/>
<line x1="432.5" y1="464.16" x2="558.8" y2="464.16" stroke="#000" stroke-width="1.0" stroke-dasharray="2.5,1.6"/>
<path d="M432.5,399.85 V485.6 H561" fill="none" stroke="#333" stroke-width="1.2"/>
<text x="428.7" y="488.3" font-size="8.1" text-anchor="end" fill="#000" font-weight="bold" >0</text>
<text x="428.7" y="466.86" font-size="8.1" text-anchor="end" fill="#000" font-weight="bold" >100</text>
<text x="428.7" y="445.43" font-size="8.1" text-anchor="end" fill="#000" font-weight="bold" >200</text>
<text x="428.7" y="423.99" font-size="8.1" text-anchor="end" fill="#000" font-weight="bold" >300</text>
<text x="428.7" y="402.55" font-size="8.1" text-anchor="end" fill="#000" font-weight="bold" >400</text>
<text x="432.5" y="497.3" font-size="8.1" text-anchor="middle" fill="#000" font-weight="bold" >0</text>
<text x="448.56" y="497.3" font-size="8.1" text-anchor="middle" fill="#000" font-weight="bold" >25</text>
<text x="464.62" y="497.3" font-size="8.1" text-anchor="middle" fill="#000" font-weight="bold" >50</text>
<text x="480.69" y="497.3" font-size="8.1" text-anchor="middle" fill="#000" font-weight="bold" >75</text>
<text x="496.75" y="497.3" font-size="8.1" text-anchor="middle" fill="#000" font-weight="bold" >100</text>
<text x="512.81" y="497.3" font-size="8.1" text-anchor="middle" fill="#000" font-weight="bold" >125</text>
<text x="528.88" y="497.3" font-size="8.1" text-anchor="middle" fill="#000" font-weight="bold" >150</text>
<text x="544.94" y="497.3" font-size="8.1" text-anchor="middle" fill="#000" font-weight="bold" >175</text>
<text x="561" y="497.3" font-size="8.1" text-anchor="middle" fill="#000" font-weight="bold" >200</text>
<path d="M429.3,485.6 H432.5 M429.3,464.16 H432.5 M429.3,442.73 H432.5 M429.3,421.29 H432.5 M429.3,399.85 H432.5 M432.5,485.6 V488.4 M448.56,485.6 V488.4 M464.62,485.6 V488.4 M480.69,485.6 V488.4 M496.75,485.6 V488.4 M512.81,485.6 V488.4 M528.88,485.6 V488.4 M544.94,485.6 V488.4 M561,485.6 V488.4" stroke="#333" stroke-width="1.0" fill="none"/>
<text x="496.75" y="512.4" font-size="8.2" text-anchor="middle" fill="#000" font-weight="bold" >Concentration (µM)</text>
<text x="405.3" y="441.3" font-size="8.4" text-anchor="middle" font-weight="bold" transform="rotate(-90 405.3 441.3)" xml:space="preserve">OCR  (% Basal)</text>
<path d="M432.5,464.16 L434.53,464.16 L438.93,464.38 L452.8,463.95 L496.75,463.09 L561,459.45" fill="none" stroke="#000" stroke-width="1.0" stroke-linejoin="round"/>
<circle cx="432.5" cy="464.16" r="1.95" fill="#000"/>
<circle cx="434.53" cy="464.16" r="1.95" fill="#000"/>
<circle cx="438.93" cy="464.38" r="1.95" fill="#000"/>
<circle cx="452.8" cy="463.95" r="1.95" fill="#000"/>
<circle cx="496.75" cy="463.09" r="1.95" fill="#000"/>
<circle cx="561" cy="459.45" r="1.95" fill="#000"/>
<path d="M432.5,463.73 L432.56,440.8 L432.69,434.36 L433.14,429.43 L434.53,419.36 L438.93,422.15 L452.8,423.86 L496.75,423.43 L561,407.14" fill="none" stroke="#0000ff" stroke-width="1.0" stroke-linejoin="round"/>
<path d="M432.69,431.15 V437.58 M430.69,431.15 H434.69 M430.69,437.58 H434.69" stroke="#0000ff" stroke-width="1" fill="none"/>
<path d="M434.53,417.43 V421.29 M432.53,417.43 H436.53 M432.53,421.29 H436.53" stroke="#0000ff" stroke-width="1" fill="none"/>
<path d="M496.75,421.93 V424.93 M494.75,421.93 H498.75 M494.75,424.93 H498.75" stroke="#0000ff" stroke-width="1" fill="none"/>
<circle cx="432.5" cy="463.73" r="1.95" fill="#0000ff"/>
<circle cx="432.56" cy="440.8" r="1.95" fill="#0000ff"/>
<circle cx="432.69" cy="434.36" r="1.95" fill="#0000ff"/>
<circle cx="433.14" cy="429.43" r="1.95" fill="#0000ff"/>
<circle cx="434.53" cy="419.36" r="1.95" fill="#0000ff"/>
<circle cx="438.93" cy="422.15" r="1.95" fill="#0000ff"/>
<circle cx="452.8" cy="423.86" r="1.95" fill="#0000ff"/>
<circle cx="496.75" cy="423.43" r="1.95" fill="#0000ff"/>
<circle cx="561" cy="407.14" r="1.95" fill="#0000ff"/>
<line x1="618.8" y1="464.16" x2="745.2" y2="464.16" stroke="#000" stroke-width="1.0" stroke-dasharray="2.5,1.6"/>
<path d="M618.8,399.85 V485.6 H747.4" fill="none" stroke="#333" stroke-width="1.2"/>
<text x="615" y="488.3" font-size="8.1" text-anchor="end" fill="#000" font-weight="bold" >0</text>
<text x="615" y="466.86" font-size="8.1" text-anchor="end" fill="#000" font-weight="bold" >100</text>
<text x="615" y="445.43" font-size="8.1" text-anchor="end" fill="#000" font-weight="bold" >200</text>
<text x="615" y="423.99" font-size="8.1" text-anchor="end" fill="#000" font-weight="bold" >300</text>
<text x="615" y="402.55" font-size="8.1" text-anchor="end" fill="#000" font-weight="bold" >400</text>
<text x="618.8" y="497.3" font-size="8.1" text-anchor="middle" fill="#000" font-weight="bold" >0</text>
<text x="634.88" y="497.3" font-size="8.1" text-anchor="middle" fill="#000" font-weight="bold" >25</text>
<text x="650.95" y="497.3" font-size="8.1" text-anchor="middle" fill="#000" font-weight="bold" >50</text>
<text x="667.02" y="497.3" font-size="8.1" text-anchor="middle" fill="#000" font-weight="bold" >75</text>
<text x="683.1" y="497.3" font-size="8.1" text-anchor="middle" fill="#000" font-weight="bold" >100</text>
<text x="699.17" y="497.3" font-size="8.1" text-anchor="middle" fill="#000" font-weight="bold" >125</text>
<text x="715.25" y="497.3" font-size="8.1" text-anchor="middle" fill="#000" font-weight="bold" >150</text>
<text x="731.32" y="497.3" font-size="8.1" text-anchor="middle" fill="#000" font-weight="bold" >175</text>
<text x="747.4" y="497.3" font-size="8.1" text-anchor="middle" fill="#000" font-weight="bold" >200</text>
<path d="M615.6,485.6 H618.8 M615.6,464.16 H618.8 M615.6,442.73 H618.8 M615.6,421.29 H618.8 M615.6,399.85 H618.8 M618.8,485.6 V488.4 M634.88,485.6 V488.4 M650.95,485.6 V488.4 M667.02,485.6 V488.4 M683.1,485.6 V488.4 M699.17,485.6 V488.4 M715.25,485.6 V488.4 M731.32,485.6 V488.4 M747.4,485.6 V488.4" stroke="#333" stroke-width="1.0" fill="none"/>
<text x="683.1" y="512.4" font-size="8.2" text-anchor="middle" fill="#000" font-weight="bold" >Concentration (µM)</text>
<text x="591.6" y="441.3" font-size="8.4" text-anchor="middle" font-weight="bold" transform="rotate(-90 591.6 441.3)" xml:space="preserve">OCR  (% Basal)</text>
<path d="M618.8,464.59 L618.99,432.01 L619.44,460.95 L620.83,462.88 L625.23,461.38 L639.12,461.8 L683.1,462.23 L747.4,462.45" fill="none" stroke="#000" stroke-width="1.0" stroke-linejoin="round"/>
<circle cx="618.8" cy="464.59" r="1.95" fill="#000"/>
<circle cx="618.99" cy="432.01" r="1.95" fill="#000"/>
<circle cx="619.44" cy="460.95" r="1.95" fill="#000"/>
<circle cx="620.83" cy="462.88" r="1.95" fill="#000"/>
<circle cx="625.23" cy="461.38" r="1.95" fill="#000"/>
<circle cx="639.12" cy="461.8" r="1.95" fill="#000"/>
<circle cx="683.1" cy="462.23" r="1.95" fill="#000"/>
<circle cx="747.4" cy="462.45" r="1.95" fill="#000"/>
<path d="M618.8,464.16 L618.86,442.73 L619.44,424.5 L620.83,418.93 L625.23,423.22 L639.12,424.5 L683.1,419.79 L747.4,414.43" fill="none" stroke="#0000ff" stroke-width="1.0" stroke-linejoin="round"/>
<path d="M625.23,422.15 V424.29 M623.23,422.15 H627.23 M623.23,424.29 H627.23" stroke="#0000ff" stroke-width="1" fill="none"/>
<circle cx="618.8" cy="464.16" r="1.95" fill="#0000ff"/>
<circle cx="618.86" cy="442.73" r="1.95" fill="#0000ff"/>
<circle cx="619.44" cy="424.5" r="1.95" fill="#0000ff"/>
<circle cx="620.83" cy="418.93" r="1.95" fill="#0000ff"/>
<circle cx="625.23" cy="423.22" r="1.95" fill="#0000ff"/>
<circle cx="639.12" cy="424.5" r="1.95" fill="#0000ff"/>
<circle cx="683.1" cy="419.79" r="1.95" fill="#0000ff"/>
<circle cx="747.4" cy="414.43" r="1.95" fill="#0000ff"/>
<line x1="53.9" y1="637.86" x2="180.3" y2="637.86" stroke="#000" stroke-width="1.0" stroke-dasharray="2.5,1.6"/>
<path d="M53.9,573.55 V659.3 H182.5" fill="none" stroke="#333" stroke-width="1.2"/>
<text x="50.1" y="662" font-size="8.1" text-anchor="end" fill="#000" font-weight="bold" >0</text>
<text x="50.1" y="640.56" font-size="8.1" text-anchor="end" fill="#000" font-weight="bold" >100</text>
<text x="50.1" y="619.12" font-size="8.1" text-anchor="end" fill="#000" font-weight="bold" >200</text>
<text x="50.1" y="597.69" font-size="8.1" text-anchor="end" fill="#000" font-weight="bold" >300</text>
<text x="50.1" y="576.25" font-size="8.1" text-anchor="end" fill="#000" font-weight="bold" >400</text>
<text x="53.9" y="671" font-size="8.1" text-anchor="middle" fill="#000" font-weight="bold" >0</text>
<text x="69.97" y="671" font-size="8.1" text-anchor="middle" fill="#000" font-weight="bold" >25</text>
<text x="86.05" y="671" font-size="8.1" text-anchor="middle" fill="#000" font-weight="bold" >50</text>
<text x="102.12" y="671" font-size="8.1" text-anchor="middle" fill="#000" font-weight="bold" >75</text>
<text x="118.2" y="671" font-size="8.1" text-anchor="middle" fill="#000" font-weight="bold" >100</text>
<text x="134.28" y="671" font-size="8.1" text-anchor="middle" fill="#000" font-weight="bold" >125</text>
<text x="150.35" y="671" font-size="8.1" text-anchor="middle" fill="#000" font-weight="bold" >150</text>
<text x="166.43" y="671" font-size="8.1" text-anchor="middle" fill="#000" font-weight="bold" >175</text>
<text x="182.5" y="671" font-size="8.1" text-anchor="middle" fill="#000" font-weight="bold" >200</text>
<path d="M50.7,659.3 H53.9 M50.7,637.86 H53.9 M50.7,616.42 H53.9 M50.7,594.99 H53.9 M50.7,573.55 H53.9 M53.9,659.3 V662.1 M69.97,659.3 V662.1 M86.05,659.3 V662.1 M102.12,659.3 V662.1 M118.2,659.3 V662.1 M134.28,659.3 V662.1 M150.35,659.3 V662.1 M166.43,659.3 V662.1 M182.5,659.3 V662.1" stroke="#333" stroke-width="1.0" fill="none"/>
<text x="118.2" y="686.1" font-size="8.2" text-anchor="middle" fill="#000" font-weight="bold" >Concentration (µM)</text>
<text x="26.7" y="615" font-size="8.4" text-anchor="middle" font-weight="bold" transform="rotate(-90 26.7 615)" xml:space="preserve">OCR  (% Basal)</text>
<path d="M53.9,637.86 L55.93,638.51 L60.33,637.43 L74.22,637.86 L118.2,637.65 L182.5,634" fill="none" stroke="#000" stroke-width="1.0" stroke-linejoin="round"/>
<circle cx="53.9" cy="637.86" r="1.95" fill="#000"/>
<circle cx="55.93" cy="638.51" r="1.95" fill="#000"/>
<circle cx="60.33" cy="637.43" r="1.95" fill="#000"/>
<circle cx="74.22" cy="637.86" r="1.95" fill="#000"/>
<circle cx="118.2" cy="637.65" r="1.95" fill="#000"/>
<circle cx="182.5" cy="634" r="1.95" fill="#000"/>
<path d="M53.9,637.43 L53.96,614.5 L54.09,608.06 L54.54,603.13 L55.93,593.06 L60.33,595.84 L74.22,597.56 L118.2,597.13 L182.5,580.84" fill="none" stroke="#0000ff" stroke-width="1.0" stroke-linejoin="round"/>
<path d="M54.09,604.85 V611.28 M52.09,604.85 H56.09 M52.09,611.28 H56.09" stroke="#0000ff" stroke-width="1" fill="none"/>
<path d="M55.93,591.13 V594.99 M53.93,591.13 H57.93 M53.93,594.99 H57.93" stroke="#0000ff" stroke-width="1" fill="none"/>
<path d="M118.2,595.63 V598.63 M116.2,595.63 H120.2 M116.2,598.63 H120.2" stroke="#0000ff" stroke-width="1" fill="none"/>
<circle cx="53.9" cy="637.43" r="1.95" fill="#0000ff"/>
<circle cx="53.96" cy="614.5" r="1.95" fill="#0000ff"/>
<circle cx="54.09" cy="608.06" r="1.95" fill="#0000ff"/>
<circle cx="54.54" cy="603.13" r="1.95" fill="#0000ff"/>
<circle cx="55.93" cy="593.06" r="1.95" fill="#0000ff"/>
<circle cx="60.33" cy="595.84" r="1.95" fill="#0000ff"/>
<circle cx="74.22" cy="597.56" r="1.95" fill="#0000ff"/>
<circle cx="118.2" cy="597.13" r="1.95" fill="#0000ff"/>
<circle cx="182.5" cy="580.84" r="1.95" fill="#0000ff"/>
<line x1="241" y1="637.86" x2="367.4" y2="637.86" stroke="#000" stroke-width="1.0" stroke-dasharray="2.5,1.6"/>
<path d="M241,573.55 V659.3 H369.6" fill="none" stroke="#333" stroke-width="1.2"/>
<text x="237.2" y="662" font-size="8.1" text-anchor="end" fill="#000" font-weight="bold" >0</text>
<text x="237.2" y="640.56" font-size="8.1" text-anchor="end" fill="#000" font-weight="bold" >100</text>
<text x="237.2" y="619.12" font-size="8.1" text-anchor="end" fill="#000" font-weight="bold" >200</text>
<text x="237.2" y="597.69" font-size="8.1" text-anchor="end" fill="#000" font-weight="bold" >300</text>
<text x="237.2" y="576.25" font-size="8.1" text-anchor="end" fill="#000" font-weight="bold" >400</text>
<text x="241" y="671" font-size="8.1" text-anchor="middle" fill="#000" font-weight="bold" >0</text>
<text x="257.07" y="671" font-size="8.1" text-anchor="middle" fill="#000" font-weight="bold" >25</text>
<text x="273.15" y="671" font-size="8.1" text-anchor="middle" fill="#000" font-weight="bold" >50</text>
<text x="289.23" y="671" font-size="8.1" text-anchor="middle" fill="#000" font-weight="bold" >75</text>
<text x="305.3" y="671" font-size="8.1" text-anchor="middle" fill="#000" font-weight="bold" >100</text>
<text x="321.38" y="671" font-size="8.1" text-anchor="middle" fill="#000" font-weight="bold" >125</text>
<text x="337.45" y="671" font-size="8.1" text-anchor="middle" fill="#000" font-weight="bold" >150</text>
<text x="353.53" y="671" font-size="8.1" text-anchor="middle" fill="#000" font-weight="bold" >175</text>
<text x="369.6" y="671" font-size="8.1" text-anchor="middle" fill="#000" font-weight="bold" >200</text>
<path d="M237.8,659.3 H241 M237.8,637.86 H241 M237.8,616.42 H241 M237.8,594.99 H241 M237.8,573.55 H241 M241,659.3 V662.1 M257.07,659.3 V662.1 M273.15,659.3 V662.1 M289.23,659.3 V662.1 M305.3,659.3 V662.1 M321.38,659.3 V662.1 M337.45,659.3 V662.1 M353.53,659.3 V662.1 M369.6,659.3 V662.1" stroke="#333" stroke-width="1.0" fill="none"/>
<text x="305.3" y="686.1" font-size="8.2" text-anchor="middle" fill="#000" font-weight="bold" >Concentration (µM)</text>
<text x="213.8" y="615" font-size="8.4" text-anchor="middle" font-weight="bold" transform="rotate(-90 213.8 615)" xml:space="preserve">OCR  (% Basal)</text>
<path d="M241,637.86 L243.03,638.29 L247.43,637.65 L261.32,637.65 L305.3,637 L369.6,637" fill="none" stroke="#000" stroke-width="1.0" stroke-linejoin="round"/>
<circle cx="241" cy="637.86" r="1.95" fill="#000"/>
<circle cx="243.03" cy="638.29" r="1.95" fill="#000"/>
<circle cx="247.43" cy="637.65" r="1.95" fill="#000"/>
<circle cx="261.32" cy="637.65" r="1.95" fill="#000"/>
<circle cx="305.3" cy="637" r="1.95" fill="#000"/>
<circle cx="369.6" cy="637" r="1.95" fill="#000"/>
<path d="M241,637.86 L241.06,615.14 L241.64,604.63 L243.03,592.2 L247.43,596.49 L261.32,597.13 L305.3,596.06 L369.6,594.56" fill="none" stroke="#0000ff" stroke-width="1.0" stroke-linejoin="round"/>
<path d="M241.64,601.63 V607.64 M239.64,601.63 H243.64 M239.64,607.64 H243.64" stroke="#0000ff" stroke-width="1" fill="none"/>
<path d="M243.03,588.77 V595.63 M241.03,588.77 H245.03 M241.03,595.63 H245.03" stroke="#0000ff" stroke-width="1" fill="none"/>
<path d="M247.43,594.34 V598.63 M245.43,594.34 H249.43 M245.43,598.63 H249.43" stroke="#0000ff" stroke-width="1" fill="none"/>
<path d="M261.32,594.77 V599.49 M259.32,594.77 H263.32 M259.32,599.49 H263.32" stroke="#0000ff" stroke-width="1" fill="none"/>
<path d="M305.3,593.49 V598.63 M303.3,593.49 H307.3 M303.3,598.63 H307.3" stroke="#0000ff" stroke-width="1" fill="none"/>
<path d="M369.6,591.99 V597.13 M367.6,591.99 H371.6 M367.6,597.13 H371.6" stroke="#0000ff" stroke-width="1" fill="none"/>
<circle cx="241" cy="637.86" r="1.95" fill="#0000ff"/>
<circle cx="241.06" cy="615.14" r="1.95" fill="#0000ff"/>
<circle cx="241.64" cy="604.63" r="1.95" fill="#0000ff"/>
<circle cx="243.03" cy="592.2" r="1.95" fill="#0000ff"/>
<circle cx="247.43" cy="596.49" r="1.95" fill="#0000ff"/>
<circle cx="261.32" cy="597.13" r="1.95" fill="#0000ff"/>
<circle cx="305.3" cy="596.06" r="1.95" fill="#0000ff"/>
<circle cx="369.6" cy="594.56" r="1.95" fill="#0000ff"/>
<line x1="432.5" y1="637.96" x2="558.8" y2="637.96" stroke="#000" stroke-width="1.0" stroke-dasharray="2.5,1.6"/>
<path d="M432.5,573.65 V659.4 H561" fill="none" stroke="#333" stroke-width="1.2"/>
<text x="428.7" y="662.1" font-size="8.1" text-anchor="end" fill="#000" font-weight="bold" >0</text>
<text x="428.7" y="640.66" font-size="8.1" text-anchor="end" fill="#000" font-weight="bold" >100</text>
<text x="428.7" y="619.23" font-size="8.1" text-anchor="end" fill="#000" font-weight="bold" >200</text>
<text x="428.7" y="597.79" font-size="8.1" text-anchor="end" fill="#000" font-weight="bold" >300</text>
<text x="428.7" y="576.35" font-size="8.1" text-anchor="end" fill="#000" font-weight="bold" >400</text>
<text x="432.5" y="671.1" font-size="8.1" text-anchor="middle" fill="#000" font-weight="bold" >0</text>
<text x="448.56" y="671.1" font-size="8.1" text-anchor="middle" fill="#000" font-weight="bold" >25</text>
<text x="464.62" y="671.1" font-size="8.1" text-anchor="middle" fill="#000" font-weight="bold" >50</text>
<text x="480.69" y="671.1" font-size="8.1" text-anchor="middle" fill="#000" font-weight="bold" >75</text>
<text x="496.75" y="671.1" font-size="8.1" text-anchor="middle" fill="#000" font-weight="bold" >100</text>
<text x="512.81" y="671.1" font-size="8.1" text-anchor="middle" fill="#000" font-weight="bold" >125</text>
<text x="528.88" y="671.1" font-size="8.1" text-anchor="middle" fill="#000" font-weight="bold" >150</text>
<text x="544.94" y="671.1" font-size="8.1" text-anchor="middle" fill="#000" font-weight="bold" >175</text>
<text x="561" y="671.1" font-size="8.1" text-anchor="middle" fill="#000" font-weight="bold" >200</text>
<path d="M429.3,659.4 H432.5 M429.3,637.96 H432.5 M429.3,616.52 H432.5 M429.3,595.09 H432.5 M429.3,573.65 H432.5 M432.5,659.4 V662.2 M448.56,659.4 V662.2 M464.62,659.4 V662.2 M480.69,659.4 V662.2 M496.75,659.4 V662.2 M512.81,659.4 V662.2 M528.88,659.4 V662.2 M544.94,659.4 V662.2 M561,659.4 V662.2" stroke="#333" stroke-width="1.0" fill="none"/>
<text x="496.75" y="686.2" font-size="8.2" text-anchor="middle" fill="#000" font-weight="bold" >Concentration (µM)</text>
<text x="405.3" y="615.1" font-size="8.4" text-anchor="middle" font-weight="bold" transform="rotate(-90 405.3 615.1)" xml:space="preserve">OCR  (% Basal)</text>
<path d="M432.5,637.96 L433.14,637.53 L434.53,621.24 L438.93,634.75 L452.8,651.47 L496.75,654.68 L561,655.54" fill="none" stroke="#000" stroke-width="1.0" stroke-linejoin="round"/>
<circle cx="432.5" cy="637.96" r="1.95" fill="#000"/>
<circle cx="433.14" cy="637.53" r="1.95" fill="#000"/>
<circle cx="434.53" cy="621.24" r="1.95" fill="#000"/>
<circle cx="438.93" cy="634.75" r="1.95" fill="#000"/>
<circle cx="452.8" cy="651.47" r="1.95" fill="#000"/>
<circle cx="496.75" cy="654.68" r="1.95" fill="#000"/>
<circle cx="561" cy="655.54" r="1.95" fill="#000"/>
<path d="M432.5,637.96 L432.56,614.6 L433.14,596.37 L434.53,588.87 L438.93,596.37 L452.8,589.3 L496.75,587.16 L561,583.73" fill="none" stroke="#0000ff" stroke-width="1.0" stroke-linejoin="round"/>
<path d="M434.53,586.73 V591.01 M432.53,586.73 H436.53 M432.53,591.01 H436.53" stroke="#0000ff" stroke-width="1" fill="none"/>
<circle cx="432.5" cy="637.96" r="1.95" fill="#0000ff"/>
<circle cx="432.56" cy="614.6" r="1.95" fill="#0000ff"/>
<circle cx="433.14" cy="596.37" r="1.95" fill="#0000ff"/>
<circle cx="434.53" cy="588.87" r="1.95" fill="#0000ff"/>
<circle cx="438.93" cy="596.37" r="1.95" fill="#0000ff"/>
<circle cx="452.8" cy="589.3" r="1.95" fill="#0000ff"/>
<circle cx="496.75" cy="587.16" r="1.95" fill="#0000ff"/>
<circle cx="561" cy="583.73" r="1.95" fill="#0000ff"/>
<text x="151.7" y="72" font-size="8.3" text-anchor="middle" fill="#0000ff" font-weight="bold" >BAM15</text>
<text x="182.3" y="138" font-size="8.25" text-anchor="end" fill="#0000ff" font-weight="bold" xml:space="preserve">EC<tspan font-size="6.1" dy="2.0">50</tspan><tspan dy="-2.0"> = 0.32 ±  0.02 µM</tspan></text>
<text x="368.6" y="138" font-size="8.25" text-anchor="end" fill="#000" font-weight="bold" xml:space="preserve">EC<tspan font-size="6.1" dy="2.0">50</tspan><tspan dy="-2.0"> = 1.61 ± 0.41 µM</tspan></text>
<text x="340" y="66.9" font-size="8.3" text-anchor="middle" fill="#000" font-weight="bold" >ES9</text>
<text x="560.3" y="138" font-size="8.25" text-anchor="end" fill="#000" font-weight="bold" xml:space="preserve">EC<tspan font-size="6.1" dy="2.0">50</tspan><tspan dy="-2.0"> = 1.01 ± 1.20 µM</tspan></text>
<text x="542.5" y="69.3" font-size="7.25" text-anchor="middle" fill="#000" font-weight="bold" >OPC-163493</text>
<text x="747.6" y="138" font-size="8.25" text-anchor="end" fill="#000" font-weight="bold" xml:space="preserve">EC<tspan font-size="6.1" dy="2.0">50</tspan><tspan dy="-2.0"> = 17.04 ±  1.18 µM</tspan></text>
<text x="727" y="74" font-size="8.3" text-anchor="middle" fill="#000" font-weight="bold" >DNP</text>
<text x="181.7" y="310" font-size="8.25" text-anchor="end" fill="#000" font-weight="bold" xml:space="preserve">EC<tspan font-size="6.1" dy="2.0">50</tspan><tspan dy="-2.0"> = 2.32 ± 0.46 µM</tspan></text>
<text x="161.8" y="237" font-size="8.3" text-anchor="middle" fill="#000" font-weight="bold" >NTZ</text>
<text x="368.3" y="310" font-size="8.25" text-anchor="end" fill="#000" font-weight="bold" xml:space="preserve">EC<tspan font-size="6.1" dy="2.0">50</tspan><tspan dy="-2.0"> = 0.01 ± 0.13 µM</tspan></text>
<text x="329.5" y="234.7" font-size="8.3" text-anchor="middle" fill="#000" font-weight="bold" >TyrA9</text>
<text x="564" y="310" font-size="8.25" text-anchor="end" fill="#000" font-weight="bold" xml:space="preserve">EC<tspan font-size="6.1" dy="2.0">50</tspan><tspan dy="-2.0"> = 13.52 ± 7.14 µM</tspan></text>
<text x="524.6" y="245.3" font-size="8.3" text-anchor="middle" fill="#000" font-weight="bold" >Ppc-1</text>
<text x="745.3" y="310" font-size="8.25" text-anchor="end" fill="#333" font-weight="bold" xml:space="preserve">EC<tspan font-size="6.1" dy="2.0">50</tspan><tspan dy="-2.0"> = 0.43 ± 0.12 µM</tspan></text>
<text x="716" y="247.9" font-size="8.3" text-anchor="middle" fill="#000" font-weight="bold" >UsAc</text>
<text x="181.2" y="477.5" font-size="8.25" text-anchor="end" fill="#000" font-weight="bold" xml:space="preserve">EC<tspan font-size="6.1" dy="2.0">50</tspan><tspan dy="-2.0"> = 0.52 ± 0.13 µM</tspan></text>
<text x="162.6" y="405.9" font-size="8.3" text-anchor="middle" fill="#000" font-weight="bold" >TTFB</text>
<text x="368.8" y="479.6" font-size="8.25" text-anchor="end" fill="#000" font-weight="bold" xml:space="preserve">EC<tspan font-size="6.1" dy="2.0">50</tspan><tspan dy="-2.0"> = 0.31 ± 0.18 µM</tspan></text>
<text x="333.1" y="414.8" font-size="8.3" text-anchor="middle" fill="#000" font-weight="bold" >FCCP</text>
<text x="542" y="407.3" font-size="7.3" text-anchor="middle" fill="#000" font-weight="bold" >ELL</text>
<text x="745.5" y="479.3" font-size="8.25" text-anchor="end" fill="#000" font-weight="bold" xml:space="preserve">EC<tspan font-size="6.1" dy="2.0">50</tspan><tspan dy="-2.0"> = 0.09 ± 0.36 µM</tspan></text>
<text x="703" y="415.3" font-size="8.3" text-anchor="middle" fill="#000" font-weight="bold" >NEN</text>
<text x="133.6" y="587" font-size="8.3" text-anchor="middle" fill="#000" font-weight="bold" >SR4</text>
<text x="311.1" y="586" font-size="8.3" text-anchor="middle" fill="#000" font-weight="bold" >Sorafenib</text>
<text x="557.7" y="651.8" font-size="8.25" text-anchor="end" fill="#000" font-weight="bold" xml:space="preserve">EC<tspan font-size="6.1" dy="2.0">50</tspan><tspan dy="-2.0"> = 1.02 ± 0.98 µM</tspan></text>
<text x="534" y="582.6" font-size="8.3" text-anchor="middle" font-weight="bold">C<tspan font-size="6" dy="2">12</tspan><tspan dy="-2">TPP</tspan></text>
<path d="M632.9,573.7 V660.4 H763" fill="none" stroke="#333" stroke-width="1.2"/>
<text x="628.8" y="663.8" font-size="8.1" text-anchor="end" fill="#000" font-weight="bold" >0</text>
<text x="628.8" y="649.35" font-size="8.1" text-anchor="end" fill="#000" font-weight="bold" >20</text>
<text x="628.8" y="634.9" font-size="8.1" text-anchor="end" fill="#000" font-weight="bold" >40</text>
<text x="628.8" y="620.45" font-size="8.1" text-anchor="end" fill="#000" font-weight="bold" >60</text>
<text x="628.8" y="606" font-size="8.1" text-anchor="end" fill="#000" font-weight="bold" >80</text>
<text x="628.8" y="591.55" font-size="8.1" text-anchor="end" fill="#000" font-weight="bold" >100</text>
<text x="628.8" y="577.1" font-size="8.1" text-anchor="end" fill="#000" font-weight="bold" >120</text>
<rect x="636.3" y="588.15" width="5.2" height="72.25" fill="#5a9ff5" stroke="#111" stroke-width="0.7"/>
<path d="M638.9,588.15 V587.43 M637.5,587.43 H640.3" stroke="#111" stroke-width="0.8"/>
<text x="641.5" y="670.4" font-size="7.15" font-weight="bold" text-anchor="end" transform="rotate(-45 641.5 670.4)">BAM15</text>
<rect x="644.74" y="612.72" width="5.2" height="47.68" fill="#ff8000" stroke="#111" stroke-width="0.7"/>
<path d="M647.34,612.72 V611.63 M645.94,611.63 H648.74" stroke="#111" stroke-width="0.8"/>
<text x="647.04" y="609.23" font-size="5.6" text-anchor="middle">★</text>
<text x="649.94" y="670.4" font-size="7.15" font-weight="bold" text-anchor="end" transform="rotate(-45 649.94 670.4)">ES9</text>
<rect x="653.18" y="620.3" width="5.2" height="40.1" fill="#ff6699" stroke="#111" stroke-width="0.7"/>
<path d="M655.78,620.3 V618.28 M654.38,618.28 H657.18" stroke="#111" stroke-width="0.8"/>
<text x="655.48" y="615.88" font-size="5.6" text-anchor="middle">★</text>
<text x="658.38" y="670.4" font-size="7.15" font-weight="bold" text-anchor="end" transform="rotate(-45 658.38 670.4)">OPC-163493</text>
<rect x="661.62" y="621.02" width="5.2" height="39.38" fill="#ffe010" stroke="#111" stroke-width="0.7"/>
<path d="M664.22,621.02 V620.3 M662.82,620.3 H665.62" stroke="#111" stroke-width="0.8"/>
<text x="663.92" y="617.9" font-size="5.6" text-anchor="middle">★</text>
<text x="666.82" y="670.4" font-size="7.15" font-weight="bold" text-anchor="end" transform="rotate(-45 666.82 670.4)">DNP</text>
<rect x="670.06" y="632.58" width="5.2" height="27.82" fill="#a00000" stroke="#111" stroke-width="0.7"/>
<path d="M672.66,632.58 V630.42 M671.26,630.42 H674.06" stroke="#111" stroke-width="0.8"/>
<text x="672.36" y="628.02" font-size="5.6" text-anchor="middle">★</text>
<text x="675.26" y="670.4" font-size="7.15" font-weight="bold" text-anchor="end" transform="rotate(-45 675.26 670.4)">NTZ</text>
<rect x="678.5" y="648.84" width="5.2" height="11.56" fill="#c8f0dc" stroke="#111" stroke-width="0.7"/>
<path d="M681.1,648.84 V648.12 M679.7,648.12 H682.5" stroke="#111" stroke-width="0.8"/>
<text x="680.8" y="645.72" font-size="5.6" text-anchor="middle">★</text>
<text x="683.7" y="670.4" font-size="7.15" font-weight="bold" text-anchor="end" transform="rotate(-45 683.7 670.4)">TyrA9</text>
<rect x="686.94" y="652.09" width="5.2" height="8.31" fill="#0000cc" stroke="#111" stroke-width="0.7"/>
<path d="M689.54,652.09 V651.22 M688.14,651.22 H690.94" stroke="#111" stroke-width="0.8"/>
<text x="689.24" y="648.82" font-size="5.6" text-anchor="middle">★</text>
<text x="692.14" y="670.4" font-size="7.15" font-weight="bold" text-anchor="end" transform="rotate(-45 692.14 670.4)">Ppc-1</text>
<rect x="695.38" y="654.26" width="5.2" height="6.14" fill="#000000" stroke="#111" stroke-width="0.7"/>
<path d="M697.98,654.26 V653.39 M696.58,653.39 H699.38" stroke="#111" stroke-width="0.8"/>
<text x="697.68" y="650.99" font-size="5.6" text-anchor="middle">★</text>
<text x="700.58" y="670.4" font-size="7.15" font-weight="bold" text-anchor="end" transform="rotate(-45 700.58 670.4)">UsAc</text>
<rect x="703.82" y="654.62" width="5.2" height="5.78" fill="#006000" stroke="#111" stroke-width="0.7"/>
<path d="M706.42,654.62 V654.04 M705.02,654.04 H707.82" stroke="#111" stroke-width="0.8"/>
<text x="706.12" y="651.64" font-size="5.6" text-anchor="middle">★</text>
<text x="709.02" y="670.4" font-size="7.15" font-weight="bold" text-anchor="end" transform="rotate(-45 709.02 670.4)">TTFB</text>
<rect x="712.26" y="657.08" width="5.2" height="3.32" fill="#ff4444" stroke="#111" stroke-width="0.7"/>
<path d="M714.86,657.08 V656.5 M713.46,656.5 H716.26" stroke="#111" stroke-width="0.8"/>
<text x="714.56" y="654.1" font-size="5.6" text-anchor="middle">★</text>
<text x="717.46" y="670.4" font-size="7.15" font-weight="bold" text-anchor="end" transform="rotate(-45 717.46 670.4)">FCCP</text>
<rect x="720.7" y="658.09" width="5.2" height="2.31" fill="#aa0050" stroke="#111" stroke-width="0.7"/>
<path d="M723.3,658.09 V657.65 M721.9,657.65 H724.7" stroke="#111" stroke-width="0.8"/>
<text x="723" y="655.25" font-size="5.6" text-anchor="middle">★</text>
<text x="725.9" y="670.4" font-size="7.15" font-weight="bold" text-anchor="end" transform="rotate(-45 725.9 670.4)">ELL</text>
<rect x="729.14" y="658.09" width="5.2" height="2.31" fill="#cc55dd" stroke="#111" stroke-width="0.7"/>
<path d="M731.74,658.09 V657.65 M730.34,657.65 H733.14" stroke="#111" stroke-width="0.8"/>
<text x="731.44" y="655.25" font-size="5.6" text-anchor="middle">★</text>
<text x="734.34" y="670.4" font-size="7.15" font-weight="bold" text-anchor="end" transform="rotate(-45 734.34 670.4)">NEN</text>
<rect x="737.58" y="658.59" width="5.2" height="1.81" fill="#cc0066" stroke="#111" stroke-width="0.7"/>
<path d="M740.18,658.59 V658.16 M738.78,658.16 H741.58" stroke="#111" stroke-width="0.8"/>
<text x="739.88" y="655.76" font-size="5.6" text-anchor="middle">★</text>
<text x="742.78" y="670.4" font-size="7.15" font-weight="bold" text-anchor="end" transform="rotate(-45 742.78 670.4)">SR4</text>
<rect x="746.02" y="659.82" width="5.2" height="0.58" fill="#000" stroke="#111" stroke-width="0.7"/>
<path d="M748.62,659.82 V659.53 M747.22,659.53 H750.02" stroke="#111" stroke-width="0.8"/>
<text x="748.32" y="657.13" font-size="5.6" text-anchor="middle">★</text>
<text x="751.22" y="670.4" font-size="7.15" font-weight="bold" text-anchor="end" transform="rotate(-45 751.22 670.4)">Sorafenib</text>
<rect x="754.46" y="660.18" width="5.2" height="0.22" fill="#000" stroke="#111" stroke-width="0.7"/>
<path d="M757.06,660.18 V660.04 M755.66,660.04 H758.46" stroke="#111" stroke-width="0.8"/>
<text x="756.76" y="657.64" font-size="5.6" text-anchor="middle">★</text>
<text x="759.66" y="670.4" font-size="7.15" font-weight="bold" text-anchor="end" transform="rotate(-45 759.66 670.4)">C12TPP</text>
<path d="M629.7,660.4 H632.9 M629.7,645.95 H632.9 M629.7,631.5 H632.9 M629.7,617.05 H632.9 M629.7,602.6 H632.9 M629.7,588.15 H632.9 M629.7,573.7 H632.9 M638.9,660.4 V663.9 M647.34,660.4 V663.9 M655.78,660.4 V663.9 M664.22,660.4 V663.9 M672.66,660.4 V663.9 M681.1,660.4 V663.9 M689.54,660.4 V663.9 M697.98,660.4 V663.9 M706.42,660.4 V663.9 M714.86,660.4 V663.9 M723.3,660.4 V663.9 M731.74,660.4 V663.9 M740.18,660.4 V663.9 M748.62,660.4 V663.9 M757.06,660.4 V663.9" stroke="#333" stroke-width="1.0" fill="none"/>
<text x="692.5" y="556.7" font-size="8.35" text-anchor="middle" font-weight="bold"><tspan font-style="italic">in vitro</tspan> bioactivity</text>
<text x="600.5" y="616.6" font-size="8.4" text-anchor="middle" font-weight="bold" transform="rotate(-90 600.5 616.6)">AUC</text>
<text x="610.0" y="615.7" font-size="8.5" text-anchor="middle" font-weight="bold" transform="rotate(-90 610.0 615.7)">(%BAM15 AUC above baseline)</text>
<path d="M123.9,31.1 L127.15,25.47 L133.65,25.47 L136.9,31.1 L133.65,36.73 L127.15,36.73 Z M125.48,30.66 L127.56,27.06 M133.24,27.06 L135.32,30.66 M132.48,35.58 L128.32,35.58 M165.5,31.1 L168.75,25.47 L175.25,25.47 L178.5,31.1 L175.25,36.73 L168.75,36.73 Z M169.92,26.62 L174.08,26.62 M176.92,31.54 L174.84,35.14 M169.16,35.14 L167.08,31.54 M136.9,31.1 L142.6,31.1 M163,31.1 L165.5,31.1 M133.65,36.73 L136.6,41.4 M168.75,36.73 L166.4,41.4 M147,33.6 L147.6,37.6 M156.4,33.6 L155.8,37.6 M144.4,43.6 L147.6,37.6 M147.6,37.6 L155.8,37.6 M147.6,38.7 L155.8,38.7 M155.8,37.6 L158,42.2 M158,45 L155.8,48.9 M155.8,48.9 L147.6,48.9 M155.8,50 L147.6,50 M147.6,48.9 L145.3,45 M145.3,42.2 L147.6,37.6 M147.6,48.9 L146.2,54.6 M155.8,48.9 L157.2,54.6 M147.4,57.8 L149.8,59.3 M156.5,57.8 L153,59.3" fill="none" stroke="#5c5c5c" stroke-width="0.7" stroke-linejoin="round" stroke-linecap="round"/>
<text x="146.9" y="33.27" font-size="5.2" fill="#2a2a2a" text-anchor="middle" font-weight="normal">NH</text>
<text x="156.4" y="33.27" font-size="5.2" fill="#2a2a2a" text-anchor="middle" font-weight="normal">HN</text>
<text x="137.6" y="45.67" font-size="5.2" fill="#2a2a2a" text-anchor="middle" font-weight="normal">F</text>
<text x="165.5" y="45.67" font-size="5.2" fill="#2a2a2a" text-anchor="middle" font-weight="normal">F</text>
<text x="144.4" y="45.67" font-size="5.2" fill="#2a2a2a" text-anchor="middle" font-weight="normal">N</text>
<text x="158.9" y="45.67" font-size="5.2" fill="#2a2a2a" text-anchor="middle" font-weight="normal">N</text>
<text x="146" y="58.17" font-size="5.2" fill="#2a2a2a" text-anchor="middle" font-weight="normal">N</text>
<text x="157.9" y="58.17" font-size="5.2" fill="#2a2a2a" text-anchor="middle" font-weight="normal">N</text>
<text x="151.3" y="61.87" font-size="5.2" fill="#2a2a2a" text-anchor="middle" font-weight="normal">O</text>
<path d="M322.2,40.6 L328.52,44.25 L328.52,51.55 L322.2,55.2 L315.88,51.55 L315.88,44.25 Z M322.76,42.25 L326.81,44.59 M326.81,51.21 L322.76,53.55 M317.03,50.24 L317.03,45.56 M328.52,44.25 L333.4,41.6 M337.2,42.6 L340.6,44.3 M343.6,43.6 L347.4,41.1 M347.4,41.1 L348.8,34.2 L356.1,31.5 L360.7,37.4 L355.6,42.9 Z M355.95,33.17 L358.9,36.95 M354.59,41.53 L349.34,40.37 M356.1,31.5 L358.5,26.5 M315.88,51.55 L311.9,54.6" fill="none" stroke="#5c5c5c" stroke-width="0.7" stroke-linejoin="round" stroke-linecap="round"/>
<text x="335.3" y="43.7" font-size="5.0" fill="#2a2a2a" text-anchor="middle" font-weight="normal">N</text>
<text x="335.6" y="38.6" font-size="5.0" fill="#2a2a2a" text-anchor="middle" font-weight="normal">H</text>
<text x="342" y="46.2" font-size="5.0" fill="#2a2a2a" text-anchor="middle" font-weight="normal">S</text>
<text x="342.9" y="51.63" font-size="4.8" fill="#2a2a2a" text-anchor="middle" font-weight="normal">O<tspan font-size="3.6" dy="1">2</tspan></text>
<text x="361" y="26.5" font-size="5.0" fill="#2a2a2a" text-anchor="middle" font-weight="normal">Br</text>
<text x="348.8" y="34.66" font-size="4.6" fill="#2a2a2a" text-anchor="middle" font-weight="normal">S</text>
<text x="306.2" y="57.8" font-size="5.0" fill="#2a2a2a" text-anchor="middle" font-weight="normal">O<tspan font-size="3.6" dy="1">2</tspan><tspan dy="-1">N</tspan></text>
<path d="M512.8,44.9 L517.6,44.4 L522.7,49.8 L519.2,55.8 L512.8,53.3 Z M513.92,52.03 L513.92,46.65 M521.13,50.21 L518.89,54.05 M522.7,49.8 L531.6,49.8 M531.6,49.95 L535.55,43.11 L543.45,43.11 L547.4,49.95 L543.45,56.79 L535.55,56.79 Z M533.31,49.29 L535.83,44.91 M543.17,44.91 L545.69,49.29 M542.03,55.64 L536.97,55.64 M547.4,49.95 L552,50.1 M512.8,44.9 L507,43 M512.8,53.3 L506.3,57.7 M506.3,57.7 L500.2,56.3 L495.3,61.7 L499.4,66.4 L505.8,67.2 Z M504.74,65.39 L505.06,59.31 M505.8,67.2 L512,70" fill="none" stroke="#5c5c5c" stroke-width="0.7" stroke-linejoin="round" stroke-linecap="round"/>
<text x="519" y="45.88" font-size="4.4" fill="#2a2a2a" text-anchor="middle" font-weight="normal">S</text>
<text x="519.4" y="57.38" font-size="4.4" fill="#2a2a2a" text-anchor="middle" font-weight="normal">N</text>
<text x="556" y="52.06" font-size="4.6" fill="#2a2a2a" text-anchor="middle" font-weight="normal">CF<tspan font-size="3.4" dy="1">3</tspan></text>
<text x="503.4" y="44.06" font-size="4.6" fill="#2a2a2a" text-anchor="middle" font-weight="normal">Me</text>
<text x="499.4" y="58.08" font-size="4.4" fill="#2a2a2a" text-anchor="middle" font-weight="normal">N</text>
<text x="494.6" y="63.38" font-size="4.4" fill="#2a2a2a" text-anchor="middle" font-weight="normal">N</text>
<text x="499.6" y="68.58" font-size="4.4" fill="#2a2a2a" text-anchor="middle" font-weight="normal">N</text>
<text x="499.6" y="72.58" font-size="4.4" fill="#2a2a2a" text-anchor="middle" font-weight="normal">H</text>
<text x="515.5" y="72.06" font-size="4.6" fill="#2a2a2a" text-anchor="middle" font-weight="normal">CN</text>
<path d="M720.3,32.2 L728.09,36.7 L728.09,45.7 L720.3,50.2 L712.51,45.7 L712.51,36.7 Z M721.13,34.01 L726.12,36.89 M726.12,45.51 L721.13,48.39 M713.66,44.08 L713.66,38.32 M720.3,32.2 L720.3,26.8 M728.09,36.7 L732.6,33.8 M720.3,50.2 L720.3,56.6" fill="none" stroke="#5c5c5c" stroke-width="0.7" stroke-linejoin="round" stroke-linecap="round"/>
<text x="722.4" y="25.63" font-size="6.2" fill="#2a2a2a" text-anchor="middle" font-weight="normal">OH</text>
<text x="739.7" y="35.03" font-size="6.2" fill="#2a2a2a" text-anchor="middle" font-weight="normal">NO<tspan font-size="4.6" dy="1.6">2</tspan></text>
<text x="724.3" y="62.53" font-size="6.2" fill="#2a2a2a" text-anchor="middle" font-weight="normal">NO<tspan font-size="4.6" dy="1.6">2</tspan></text>
<path d="M139.8,226.5 L146.38,230.3 L146.38,237.9 L139.8,241.7 L133.22,237.9 L133.22,230.3 Z M145.23,231.67 L145.23,236.53 M139.19,240.02 L134.98,237.59 M134.98,230.61 L139.19,228.18 M139.8,226.5 L139.8,219.2 M139.8,219.2 L134.4,216.2 M140.33,218.24 L134.93,215.24 M139.8,219.2 L144.6,216 M148,214.2 L153.1,211.9 M153.1,211.9 L154,204.9 L161.1,203.9 L164.4,211.4 L158.3,215.6 Z M154.38,210.92 L154.95,206.44 M160.62,205.67 L162.73,210.47 M164.4,211.4 L168.8,212.2 M133.22,230.3 L127.6,227 M125.8,228 L120.7,229.8 M120.7,229.8 L115.6,227 M120.17,230.76 L115.07,227.96 M120.7,229.8 L120.7,237.3" fill="none" stroke="#5c5c5c" stroke-width="0.7" stroke-linejoin="round" stroke-linecap="round"/>
<text x="133" y="217.26" font-size="4.6" fill="#2a2a2a" text-anchor="middle" font-weight="normal">O</text>
<text x="146.3" y="217.46" font-size="4.6" fill="#2a2a2a" text-anchor="middle" font-weight="normal">N</text>
<text x="146.3" y="221.18" font-size="4.4" fill="#2a2a2a" text-anchor="middle" font-weight="normal">H</text>
<text x="154" y="206.11" font-size="4.2" fill="#2a2a2a" text-anchor="middle" font-weight="normal">N</text>
<text x="158.5" y="217.41" font-size="4.2" fill="#2a2a2a" text-anchor="middle" font-weight="normal">S</text>
<text x="173.4" y="214.26" font-size="4.6" fill="#2a2a2a" text-anchor="middle" font-weight="normal">NO<tspan font-size="3.4" dy="1">2</tspan></text>
<text x="126.8" y="228.66" font-size="4.6" fill="#2a2a2a" text-anchor="middle" font-weight="normal">O</text>
<text x="114.4" y="228.06" font-size="4.6" fill="#2a2a2a" text-anchor="middle" font-weight="normal">O</text>
<path d="M342.2,204.8 L348.18,208.25 L348.18,215.15 L342.2,218.6 L336.22,215.15 L336.22,208.25 Z M342.7,206.42 L346.52,208.62 M346.52,214.78 L342.7,216.98 M337.37,213.91 L337.37,209.49 M342.2,204.8 L342.2,200.9 M336.22,208.25 L330.4,204.6 M330.4,204.6 L330.4,198.3 M330.4,204.6 L324.9,201.5 M330.4,204.6 L324.9,208.6 M348.18,208.25 L354,204.6 M354,204.6 L354,198.3 M354,204.6 L359.9,201.8 M354,204.6 L359.9,208.6 M342.2,218.6 L342.2,225.4 M342.2,225.4 L348.5,228.2 M341.75,226.41 L348.05,229.21 M348.5,228.2 L352.4,226.2 M348.5,228.2 L348.5,233.4" fill="none" stroke="#5c5c5c" stroke-width="0.7" stroke-linejoin="round" stroke-linecap="round"/>
<text x="344.1" y="200.53" font-size="4.8" fill="#2a2a2a" text-anchor="middle" font-weight="normal">OH</text>
<text x="356" y="227.93" font-size="4.8" fill="#2a2a2a" text-anchor="middle" font-weight="normal">CN</text>
<text x="349.6" y="237.93" font-size="4.8" fill="#2a2a2a" text-anchor="middle" font-weight="normal">CN</text>
<path d="M520.8,212 L526.21,215.12 L526.21,221.38 L520.8,224.5 L515.39,221.38 L515.39,215.12 Z M521.2,213.56 L524.66,215.56 M524.66,220.94 L521.2,222.94 M516.54,220.25 L516.54,216.25 M510,212 L515.41,215.12 L515.41,221.38 L510,224.5 L504.59,221.38 L504.59,215.12 Z M514.26,216.25 L514.26,220.25 M509.6,222.94 L506.14,220.94 M506.14,215.56 L509.6,213.56 M520.8,212 L520.8,207.4 M521.8,205.4 L526.2,202.8 M526.21,221.38 L531.1,224.4 M531.1,224.4 L531.1,229.8 M530,224.4 L530,229.8 M531.1,224.4 L535.6,222.4 M537.6,222.6 L541.3,224.4 L546.7,221.4 M546.7,221.4 L552.1,224.4 M547.23,220.44 L552.63,223.44 M552.1,224.4 L557.5,221.4 M552.1,224.4 L552.1,230.7 M510,224.5 L510,229.8 M509,232.4 L505.1,233.6 L500.2,231.2 M500.2,231.2 L495.3,233.6 M499.72,230.21 L494.82,232.61 M495.3,233.6 L490.4,232.2 M495.3,233.6 L494.4,239.5" fill="none" stroke="#5c5c5c" stroke-width="0.7" stroke-linejoin="round" stroke-linecap="round"/>
<text x="520.8" y="226.11" font-size="4.2" fill="#2a2a2a" text-anchor="middle" font-weight="normal">N</text>
<text x="520.8" y="207.88" font-size="4.4" fill="#2a2a2a" text-anchor="middle" font-weight="normal">O</text>
<text x="531.2" y="232.88" font-size="4.4" fill="#2a2a2a" text-anchor="middle" font-weight="normal">O</text>
<text x="536.6" y="223.48" font-size="4.4" fill="#2a2a2a" text-anchor="middle" font-weight="normal">O</text>
<text x="510" y="232.88" font-size="4.4" fill="#2a2a2a" text-anchor="middle" font-weight="normal">O</text>
<path d="M699.8,215.3 L706.9,215.7 L708.9,222.7 L704.8,228.5 L697.8,228.1 L695.3,220.7 Z M700.88,216.51 L705.43,216.76 M707.27,223.02 L704.65,226.73 M698.4,226.3 L696.8,221.56 M699.8,215.3 L696.9,208.3 M695.3,220.7 L688.3,219.8 M706.9,215.7 L709,211.8 M697.8,228.1 L693.6,233.1 M693.6,233.1 L689.4,233.1 M693.6,232 L689.4,232 M693.6,233.1 L696.5,239.7 M708.9,222.7 L716.4,224 M704.8,228.5 L707.6,233.4 M710.2,233.4 L716.4,231.8 M716.4,224 L716.4,231.8 M716.4,224 L715.6,217.4 L716.6,217.4 Z M716.4,224 L723,220.2 L729.6,224.4 M729.6,224.4 L729.6,231.8 M728.5,224.4 L728.5,231.8 M729.6,231.8 L723,235.1 M723,235.1 L716.4,231.8 M723.49,234.12 L716.89,230.82 M723,220.2 L723,215 M724.1,220.2 L724.1,215 M729.6,224.4 L735.4,220.7 M735.4,220.7 L735.4,215.2 M736.5,220.7 L736.5,215.2 M735.4,220.7 L741.6,224.4 M729.6,231.8 L733.8,235" fill="none" stroke="#5c5c5c" stroke-width="0.7" stroke-linejoin="round" stroke-linecap="round"/>
<text x="712.8" y="212.13" font-size="4.8" fill="#2a2a2a" text-anchor="middle" font-weight="normal">OH</text>
<text x="687.6" y="234.83" font-size="4.8" fill="#2a2a2a" text-anchor="middle" font-weight="normal">O</text>
<text x="709" y="236.53" font-size="4.8" fill="#2a2a2a" text-anchor="middle" font-weight="normal">O</text>
<text x="723.5" y="215.13" font-size="4.8" fill="#2a2a2a" text-anchor="middle" font-weight="normal">O</text>
<text x="735.9" y="215.33" font-size="4.8" fill="#2a2a2a" text-anchor="middle" font-weight="normal">O</text>
<text x="738" y="237.53" font-size="4.8" fill="#2a2a2a" text-anchor="middle" font-weight="normal">OH</text>
<path d="M143.8,377 L149.52,380.3 L149.52,386.9 L143.8,390.2 L138.08,386.9 L138.08,380.3 Z M144.25,378.59 L147.91,380.7 M147.91,386.5 L144.25,388.61 M139.23,385.71 L139.23,381.49 M143.8,377 L143.8,372.6 M138.08,380.3 L134.6,378.4 M138.08,386.9 L134.6,388.9 M143.8,390.2 L143.8,395 M149.52,380.3 L153.6,379.2 M156.2,380.4 L159.6,383.3 M156.91,379.56 L160.31,382.46 M159.6,383.3 L156.6,387.4 M154.2,388.4 L149.52,386.9 M159.6,383.3 L165,383.7" fill="none" stroke="#5c5c5c" stroke-width="0.7" stroke-linejoin="round" stroke-linecap="round"/>
<text x="144.6" y="372.13" font-size="4.8" fill="#2a2a2a" text-anchor="middle" font-weight="normal">Cl</text>
<text x="131" y="379.33" font-size="4.8" fill="#2a2a2a" text-anchor="middle" font-weight="normal">Cl</text>
<text x="131" y="392.33" font-size="4.8" fill="#2a2a2a" text-anchor="middle" font-weight="normal">Cl</text>
<text x="144.3" y="399.13" font-size="4.8" fill="#2a2a2a" text-anchor="middle" font-weight="normal">Cl</text>
<text x="155" y="380.93" font-size="4.8" fill="#2a2a2a" text-anchor="middle" font-weight="normal">N</text>
<text x="155.6" y="390.33" font-size="4.8" fill="#2a2a2a" text-anchor="middle" font-weight="normal">N</text>
<text x="155.6" y="394.93" font-size="4.8" fill="#2a2a2a" text-anchor="middle" font-weight="normal">H</text>
<text x="168.8" y="385.93" font-size="4.8" fill="#2a2a2a" text-anchor="middle" font-weight="normal">CF<tspan font-size="3.4" dy="1">3</tspan></text>
<path d="M323.6,390.55 L330.35,394.45 L330.35,402.25 L323.6,406.15 L316.85,402.25 L316.85,394.45 Z M324.24,392.25 L328.56,394.74 M328.56,401.96 L324.24,404.45 M318,400.85 L318,395.85 M330.35,394.45 L334.6,391.6 M338,392.4 L342.4,395 M345.2,394.4 L350.3,390.5 M344.53,393.53 L349.63,389.63 M350.3,390.5 L350.6,379.2 M351.4,389.8 L351.6,379.2 M350.3,390.5 L361.6,397.4 M350.8,389.6 L362,396.4 M316.85,402.25 L312.6,405.6" fill="none" stroke="#5c5c5c" stroke-width="0.7" stroke-linejoin="round" stroke-linecap="round"/>
<text x="336.4" y="392.93" font-size="4.8" fill="#2a2a2a" text-anchor="middle" font-weight="normal">N</text>
<text x="336.6" y="388.73" font-size="4.8" fill="#2a2a2a" text-anchor="middle" font-weight="normal">H</text>
<text x="343.8" y="397.23" font-size="4.8" fill="#2a2a2a" text-anchor="middle" font-weight="normal">N</text>
<text x="350.5" y="377.73" font-size="4.8" fill="#2a2a2a" text-anchor="middle" font-weight="normal">N</text>
<text x="363.6" y="400.53" font-size="4.8" fill="#2a2a2a" text-anchor="middle" font-weight="normal">N</text>
<text x="306" y="408.4" font-size="5.0" fill="#2a2a2a" text-anchor="middle" font-weight="normal">F<tspan font-size="3.4" dy="1">3</tspan><tspan dy="-1">CO</tspan></text>
<path d="M495.3,384.2 L503.3,383.3 L508.2,390.5 L505.6,398.5 L497.6,398.9 L492.7,391.8 Z M496.92,385.17 L502.04,384.6 M506.71,391.42 L505.04,396.54 M497.62,396.91 L494.49,392.37 M508.2,390.5 L516.2,391.4 L518,399.4 M518,399.4 L513.4,402 M510.2,402 L505.6,398.5 M516.2,391.4 L522,385.6 L530,388.7 L531.4,395.8 L525.6,400.7 L518,399.4 Z M518.03,391.2 L521.74,387.48 M529.12,390.2 L530.02,394.74 M524.58,399.37 L519.72,398.54 M522,385.6 L520.9,380.8 M525.6,400.7 L527.2,406.2 M530,388.7 L535.4,382.9 L541.6,384.4 M545,386.4 L545.2,391.8 L539.4,398 L531.4,395.8 M536,384.2 L541,385.4 M544,391.4 L539.2,396.6" fill="none" stroke="#5c5c5c" stroke-width="0.7" stroke-linejoin="round" stroke-linecap="round"/>
<text x="511.8" y="404.73" font-size="4.8" fill="#2a2a2a" text-anchor="middle" font-weight="normal">N</text>
<text x="511.8" y="409.73" font-size="4.8" fill="#2a2a2a" text-anchor="middle" font-weight="normal">H</text>
<text x="518.4" y="380.13" font-size="4.8" fill="#2a2a2a" text-anchor="middle" font-weight="normal">Me</text>
<text x="529.4" y="411.53" font-size="4.8" fill="#2a2a2a" text-anchor="middle" font-weight="normal">Me</text>
<text x="543.4" y="386.53" font-size="4.8" fill="#2a2a2a" text-anchor="middle" font-weight="normal">N</text>
<path d="M684.7,390.05 L690.85,393.6 L690.85,400.7 L684.7,404.25 L678.55,400.7 L678.55,393.6 Z M689.7,394.88 L689.7,399.42 M684.17,402.62 L680.23,400.34 M680.23,393.96 L684.17,391.68 M678.55,393.6 L675.2,391.6 M690.85,393.6 L694.6,390.5 M694.6,390.5 L694.6,386 M695.7,390.5 L695.7,386 M694.6,390.5 L699.2,393.2 M701.8,392.4 L704.8,390.5 M704.8,390.5 L706.1,383.8 L711.9,380.7 L716.8,383.8 L716.8,390.5 L711.5,393.6 Z M707.64,384.28 L711.35,382.3 M715.65,385.01 L715.65,389.29 M710.92,392.08 L706.63,390.09 M690.85,400.7 L694.4,403.2 M706.1,383.8 L703.2,382 M716.8,383.8 L720.4,381.8 M715.8,399.2 L720.4,396.2 L724.8,399.4 L729,396.6" fill="none" stroke="#5c5c5c" stroke-width="0.7" stroke-linejoin="round" stroke-linecap="round"/>
<text x="672.3" y="392.73" font-size="4.8" fill="#2a2a2a" text-anchor="middle" font-weight="normal">Cl</text>
<text x="695" y="386.13" font-size="4.8" fill="#2a2a2a" text-anchor="middle" font-weight="normal">O</text>
<text x="700.4" y="395.33" font-size="4.8" fill="#2a2a2a" text-anchor="middle" font-weight="normal">N</text>
<text x="700.4" y="399.53" font-size="4.8" fill="#2a2a2a" text-anchor="middle" font-weight="normal">H</text>
<text x="697.5" y="405.33" font-size="4.8" fill="#2a2a2a" text-anchor="middle" font-weight="normal">OH</text>
<text x="699.8" y="383.13" font-size="4.8" fill="#2a2a2a" text-anchor="middle" font-weight="normal">Cl</text>
<text x="724.8" y="383.33" font-size="4.8" fill="#2a2a2a" text-anchor="middle" font-weight="normal">NO<tspan font-size="3.4" dy="1">2</tspan></text>
<text x="711" y="401.13" font-size="4.8" fill="#2a2a2a" text-anchor="middle" font-weight="normal">·H<tspan font-size="3.4" dy="1">2</tspan><tspan dy="-1">N</tspan></text>
<text x="732.6" y="398.13" font-size="4.8" fill="#2a2a2a" text-anchor="middle" font-weight="normal">OH</text>
<path d="M112.8,554.2 L119.12,557.85 L119.12,565.15 L112.8,568.8 L106.48,565.15 L106.48,557.85 Z M113.36,555.85 L117.41,558.19 M117.41,564.81 L113.36,567.15 M107.63,563.84 L107.63,559.16 M149.9,554.2 L156.22,557.85 L156.22,565.15 L149.9,568.8 L143.58,565.15 L143.58,557.85 Z M155.07,559.16 L155.07,563.84 M149.34,567.15 L145.29,564.81 M145.29,558.19 L149.34,555.85 M106.48,557.85 L102.8,555.6 M112.8,568.8 L112.8,573.6 M156.22,557.85 L160.4,555.6 M149.9,568.8 L149.9,573.6 M119.12,557.85 L122.8,555.6 M125.8,556.2 L130.6,558.7 L135.6,556.2 M138.8,556.2 L143.58,557.85 M130.6,558.7 L130.6,563.6 M129.5,558.7 L129.5,563.6" fill="none" stroke="#5c5c5c" stroke-width="0.7" stroke-linejoin="round" stroke-linecap="round"/>
<text x="99" y="556.63" font-size="4.8" fill="#2a2a2a" text-anchor="middle" font-weight="normal">Cl</text>
<text x="113" y="578.33" font-size="4.8" fill="#2a2a2a" text-anchor="middle" font-weight="normal">Cl</text>
<text x="163.6" y="556.63" font-size="4.8" fill="#2a2a2a" text-anchor="middle" font-weight="normal">Cl</text>
<text x="150.6" y="578.33" font-size="4.8" fill="#2a2a2a" text-anchor="middle" font-weight="normal">Cl</text>
<text x="124.4" y="556.73" font-size="4.8" fill="#2a2a2a" text-anchor="middle" font-weight="normal">N</text>
<text x="124.6" y="551.93" font-size="4.8" fill="#2a2a2a" text-anchor="middle" font-weight="normal">H</text>
<text x="137.2" y="556.73" font-size="4.8" fill="#2a2a2a" text-anchor="middle" font-weight="normal">N</text>
<text x="137.4" y="551.93" font-size="4.8" fill="#2a2a2a" text-anchor="middle" font-weight="normal">H</text>
<text x="130.8" y="567.33" font-size="4.8" fill="#2a2a2a" text-anchor="middle" font-weight="normal">O</text>
<path d="M294.3,566 L297.8,567.8 M300.6,567.6 L303.5,566 M303.5,566 L303.5,560.6 M304.6,566 L304.6,560.6 M303.5,566 L307.8,568.2 M307.8,568.2 L312.7,565.5 L317.5,568.2 L317.5,573.6 L312.7,576.3 L307.8,573.6 Z M309.27,568.7 L312.41,566.97 M316.35,569.17 L316.35,572.63 M312.41,574.83 L309.27,573.1 M317.5,568.2 L321.4,566 M323.4,566 L326.7,567.7 M326.7,567.7 L331.6,565.5 L335.9,568.2 L335.9,574.1 L331.6,576.3 L327.3,574.1 Z M328.13,568.32 L331.26,566.91 M334.75,569.22 L334.75,572.99 M331.33,574.87 L328.58,573.46 M335.9,574.1 L340,576.4 M340.8,578 L340.8,582.8 M340.8,582.8 L337.2,584.6 M340.31,581.82 L336.71,583.62 M340.8,582.8 L344.6,584.6 M346.8,584 L350.5,582.2 M350.5,582.2 L350.5,576.3 L355.9,573.6 L360.7,576.3 L360.7,582.2 L355.9,584.9 Z M352.05,576.81 L355.51,575.08 M359.55,577.36 L359.55,581.14 M355.51,583.42 L352.05,581.69 M360.7,576.3 L363.6,574.4 M360.7,582.2 L364.5,584.9 M364.5,584.9 L367,580.4 M364.5,584.9 L368,587.6 M364.5,584.9 L361.6,589.2" fill="none" stroke="#5c5c5c" stroke-width="0.7" stroke-linejoin="round" stroke-linecap="round"/>
<text x="299.2" y="570.04" font-size="4.0" fill="#2a2a2a" text-anchor="middle" font-weight="normal">N</text>
<text x="299.2" y="573.3" font-size="3.6" fill="#2a2a2a" text-anchor="middle" font-weight="normal">H</text>
<text x="303.6" y="560.84" font-size="4.0" fill="#2a2a2a" text-anchor="middle" font-weight="normal">O</text>
<text x="322.4" y="566.94" font-size="4.0" fill="#2a2a2a" text-anchor="middle" font-weight="normal">O</text>
<text x="341.4" y="578.24" font-size="4.0" fill="#2a2a2a" text-anchor="middle" font-weight="normal">N</text>
<text x="343.4" y="577.48" font-size="3.0" fill="#2a2a2a" text-anchor="middle" font-weight="normal">*</text>
<text x="336.2" y="586.44" font-size="4.0" fill="#2a2a2a" text-anchor="middle" font-weight="normal">O</text>
<text x="345.6" y="586.34" font-size="4.0" fill="#2a2a2a" text-anchor="middle" font-weight="normal">N</text>
<text x="345.6" y="589.7" font-size="3.6" fill="#2a2a2a" text-anchor="middle" font-weight="normal">H</text>
<text x="364.8" y="575.44" font-size="4.0" fill="#2a2a2a" text-anchor="middle" font-weight="normal">Cl</text>
<text x="367.6" y="580.57" font-size="3.8" fill="#2a2a2a" text-anchor="middle" font-weight="normal">F</text>
<text x="369" y="589.77" font-size="3.8" fill="#2a2a2a" text-anchor="middle" font-weight="normal">F</text>
<text x="361" y="591.77" font-size="3.8" fill="#2a2a2a" text-anchor="middle" font-weight="normal">F</text>
<path d="M518.5,539.5 L526.2,539.5 L530.3,546.1 L526.5,553.1 L518.9,553.1 L515.1,546.1 Z M519.93,540.65 L524.85,540.65 M528.62,546.78 L526.19,551.26 M519.2,551.25 L516.77,546.77 M536.9,547.8 L543.2,544.4 L550.1,548.2 L550.1,555.8 L543.5,559.3 L536.9,555.8 Z M538.62,548.18 L542.65,546 M548.95,549.55 L548.95,554.41 M542.88,557.67 L538.66,555.43 M516.8,560.3 L523.4,563.5 L523.4,571.1 L516.8,574.6 L510.6,571.1 L510.6,563.5 Z M517.41,561.87 L521.63,563.92 M521.64,570.73 L517.41,572.97 M511.75,569.74 L511.75,564.88 M526.5,553.1 L528.8,556.6 M531.4,558.2 L536.9,555.8 M528.4,560.6 L523.4,563.5 M531.2,561 L533,563.4" fill="none" stroke="#5c5c5c" stroke-width="0.7" stroke-linejoin="round" stroke-linecap="round"/>
<text x="530" y="561" font-size="5.0" fill="#2a2a2a" text-anchor="middle" font-weight="normal">P</text>
<text x="531.6" y="557.1" font-size="3.6" fill="#2a2a2a" text-anchor="middle" font-weight="normal">+</text>
<text x="540.4" y="568.6" font-size="5.0" fill="#2a2a2a" text-anchor="middle" font-weight="normal">C<tspan font-size="3.6" dy="1">12</tspan><tspan dy="-1">H</tspan><tspan font-size="3.6" dy="1">25</tspan></text>
</svg>
</body></html>
